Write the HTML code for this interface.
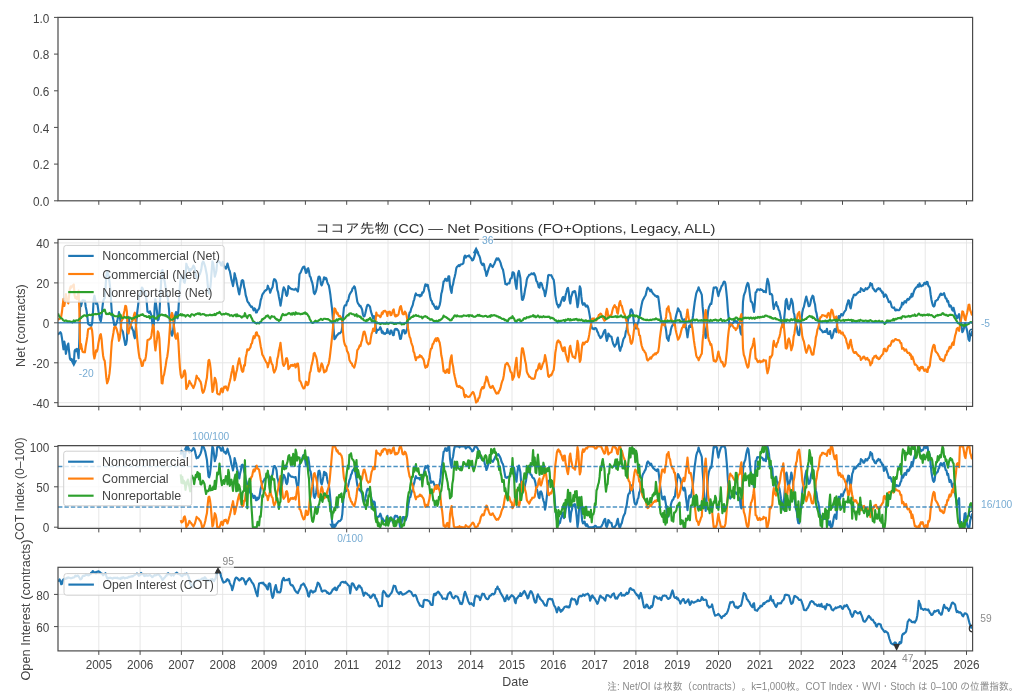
<!DOCTYPE html>
<html><head><meta charset="utf-8"><title>ココア先物 (CC) — Net Positions</title>
<style>
html,body{margin:0;padding:0;background:#fff;overflow:hidden;}
svg{display:block;}
text{font-family:"Liberation Sans","IPAGothic",sans-serif;fill:#444;}
.tk{font-size:12.8px;fill:#444;}
.lg{font-size:12.6px;fill:#444;}
.ti{font-size:13.2px;fill:#333;}
.al{font-size:12.8px;fill:#444;}
.an{font-size:11px;}
.fn{font-size:10.4px;fill:#8a8a8a;}
</style></head><body>
<svg width="1024" height="699" viewBox="0 0 1024 699">
<defs>
<clipPath id="c2"><rect x="58.0" y="239.4" width="914.6" height="167.0"/></clipPath>
<clipPath id="c3"><rect x="58.0" y="445.6" width="914.6" height="82.8"/></clipPath>
<clipPath id="c4"><rect x="58.0" y="567.3" width="914.6" height="83.6"/></clipPath>
</defs>
<rect width="1024" height="699" fill="#fff"/>
<rect x="58.0" y="17.4" width="914.6" height="183.4" fill="none" stroke="#4a4a4a" stroke-width="1.2"/>
<line x1="54.0" y1="200.8" x2="58.0" y2="200.8" stroke="#4a4a4a" stroke-width="1"/>
<text id="p1y0.0" x="49.40" y="206.00" class="tk" text-anchor="end" textLength="16.37" lengthAdjust="spacingAndGlyphs">0.0</text>
<line x1="54.0" y1="164.1" x2="58.0" y2="164.1" stroke="#4a4a4a" stroke-width="1"/>
<text id="p1y0.2" x="49.40" y="169.32" class="tk" text-anchor="end" textLength="16.37" lengthAdjust="spacingAndGlyphs">0.2</text>
<line x1="54.0" y1="127.4" x2="58.0" y2="127.4" stroke="#4a4a4a" stroke-width="1"/>
<text id="p1y0.4" x="49.40" y="132.64" class="tk" text-anchor="end" textLength="16.37" lengthAdjust="spacingAndGlyphs">0.4</text>
<line x1="54.0" y1="90.8" x2="58.0" y2="90.8" stroke="#4a4a4a" stroke-width="1"/>
<text id="p1y0.6" x="49.40" y="95.96" class="tk" text-anchor="end" textLength="16.37" lengthAdjust="spacingAndGlyphs">0.6</text>
<line x1="54.0" y1="54.1" x2="58.0" y2="54.1" stroke="#4a4a4a" stroke-width="1"/>
<text id="p1y0.8" x="49.40" y="59.28" class="tk" text-anchor="end" textLength="16.37" lengthAdjust="spacingAndGlyphs">0.8</text>
<line x1="54.0" y1="17.4" x2="58.0" y2="17.4" stroke="#4a4a4a" stroke-width="1"/>
<text id="p1y1.0" x="49.40" y="22.60" class="tk" text-anchor="end" textLength="16.37" lengthAdjust="spacingAndGlyphs">1.0</text>
<line x1="98.8" y1="200.8" x2="98.8" y2="204.8" stroke="#4a4a4a" stroke-width="1"/>
<line x1="140.1" y1="200.8" x2="140.1" y2="204.8" stroke="#4a4a4a" stroke-width="1"/>
<line x1="181.4" y1="200.8" x2="181.4" y2="204.8" stroke="#4a4a4a" stroke-width="1"/>
<line x1="222.7" y1="200.8" x2="222.7" y2="204.8" stroke="#4a4a4a" stroke-width="1"/>
<line x1="264.1" y1="200.8" x2="264.1" y2="204.8" stroke="#4a4a4a" stroke-width="1"/>
<line x1="305.4" y1="200.8" x2="305.4" y2="204.8" stroke="#4a4a4a" stroke-width="1"/>
<line x1="346.7" y1="200.8" x2="346.7" y2="204.8" stroke="#4a4a4a" stroke-width="1"/>
<line x1="388.0" y1="200.8" x2="388.0" y2="204.8" stroke="#4a4a4a" stroke-width="1"/>
<line x1="429.4" y1="200.8" x2="429.4" y2="204.8" stroke="#4a4a4a" stroke-width="1"/>
<line x1="470.7" y1="200.8" x2="470.7" y2="204.8" stroke="#4a4a4a" stroke-width="1"/>
<line x1="512.0" y1="200.8" x2="512.0" y2="204.8" stroke="#4a4a4a" stroke-width="1"/>
<line x1="553.3" y1="200.8" x2="553.3" y2="204.8" stroke="#4a4a4a" stroke-width="1"/>
<line x1="594.7" y1="200.8" x2="594.7" y2="204.8" stroke="#4a4a4a" stroke-width="1"/>
<line x1="635.9" y1="200.8" x2="635.9" y2="204.8" stroke="#4a4a4a" stroke-width="1"/>
<line x1="677.2" y1="200.8" x2="677.2" y2="204.8" stroke="#4a4a4a" stroke-width="1"/>
<line x1="718.5" y1="200.8" x2="718.5" y2="204.8" stroke="#4a4a4a" stroke-width="1"/>
<line x1="759.9" y1="200.8" x2="759.9" y2="204.8" stroke="#4a4a4a" stroke-width="1"/>
<line x1="801.2" y1="200.8" x2="801.2" y2="204.8" stroke="#4a4a4a" stroke-width="1"/>
<line x1="842.5" y1="200.8" x2="842.5" y2="204.8" stroke="#4a4a4a" stroke-width="1"/>
<line x1="883.8" y1="200.8" x2="883.8" y2="204.8" stroke="#4a4a4a" stroke-width="1"/>
<line x1="925.2" y1="200.8" x2="925.2" y2="204.8" stroke="#4a4a4a" stroke-width="1"/>
<line x1="966.5" y1="200.8" x2="966.5" y2="204.8" stroke="#4a4a4a" stroke-width="1"/>
<line x1="98.8" y1="239.4" x2="98.8" y2="406.4" stroke="#e4e4e4" stroke-width="0.9"/>
<line x1="140.1" y1="239.4" x2="140.1" y2="406.4" stroke="#e4e4e4" stroke-width="0.9"/>
<line x1="181.4" y1="239.4" x2="181.4" y2="406.4" stroke="#e4e4e4" stroke-width="0.9"/>
<line x1="222.7" y1="239.4" x2="222.7" y2="406.4" stroke="#e4e4e4" stroke-width="0.9"/>
<line x1="264.1" y1="239.4" x2="264.1" y2="406.4" stroke="#e4e4e4" stroke-width="0.9"/>
<line x1="305.4" y1="239.4" x2="305.4" y2="406.4" stroke="#e4e4e4" stroke-width="0.9"/>
<line x1="346.7" y1="239.4" x2="346.7" y2="406.4" stroke="#e4e4e4" stroke-width="0.9"/>
<line x1="388.0" y1="239.4" x2="388.0" y2="406.4" stroke="#e4e4e4" stroke-width="0.9"/>
<line x1="429.4" y1="239.4" x2="429.4" y2="406.4" stroke="#e4e4e4" stroke-width="0.9"/>
<line x1="470.7" y1="239.4" x2="470.7" y2="406.4" stroke="#e4e4e4" stroke-width="0.9"/>
<line x1="512.0" y1="239.4" x2="512.0" y2="406.4" stroke="#e4e4e4" stroke-width="0.9"/>
<line x1="553.3" y1="239.4" x2="553.3" y2="406.4" stroke="#e4e4e4" stroke-width="0.9"/>
<line x1="594.7" y1="239.4" x2="594.7" y2="406.4" stroke="#e4e4e4" stroke-width="0.9"/>
<line x1="635.9" y1="239.4" x2="635.9" y2="406.4" stroke="#e4e4e4" stroke-width="0.9"/>
<line x1="677.2" y1="239.4" x2="677.2" y2="406.4" stroke="#e4e4e4" stroke-width="0.9"/>
<line x1="718.5" y1="239.4" x2="718.5" y2="406.4" stroke="#e4e4e4" stroke-width="0.9"/>
<line x1="759.9" y1="239.4" x2="759.9" y2="406.4" stroke="#e4e4e4" stroke-width="0.9"/>
<line x1="801.2" y1="239.4" x2="801.2" y2="406.4" stroke="#e4e4e4" stroke-width="0.9"/>
<line x1="842.5" y1="239.4" x2="842.5" y2="406.4" stroke="#e4e4e4" stroke-width="0.9"/>
<line x1="883.8" y1="239.4" x2="883.8" y2="406.4" stroke="#e4e4e4" stroke-width="0.9"/>
<line x1="925.2" y1="239.4" x2="925.2" y2="406.4" stroke="#e4e4e4" stroke-width="0.9"/>
<line x1="966.5" y1="239.4" x2="966.5" y2="406.4" stroke="#e4e4e4" stroke-width="0.9"/>
<line x1="58.0" y1="402.7" x2="972.6" y2="402.7" stroke="#e4e4e4" stroke-width="0.9"/>
<line x1="58.0" y1="362.8" x2="972.6" y2="362.8" stroke="#e4e4e4" stroke-width="0.9"/>
<line x1="58.0" y1="322.8" x2="972.6" y2="322.8" stroke="#e4e4e4" stroke-width="0.9"/>
<line x1="58.0" y1="282.9" x2="972.6" y2="282.9" stroke="#e4e4e4" stroke-width="0.9"/>
<line x1="58.0" y1="242.9" x2="972.6" y2="242.9" stroke="#e4e4e4" stroke-width="0.9"/>
<polyline points="58.0,334.7 58.8,333.8 59.6,332.9 60.4,332.2 61.2,333.6 62.0,338.4 62.8,344.4 63.5,349.3 64.3,341.5 65.1,346.0 65.9,353.9 66.7,349.7 67.5,345.5 68.3,343.6 69.1,351.4 69.9,358.4 70.7,359.9 71.5,358.9 72.3,360.3 73.0,361.4 73.8,363.6 74.6,351.1 75.4,349.5 76.2,351.1 77.0,348.9 77.8,352.6 78.6,358.1 79.4,337.8 80.2,301.7 81.0,306.2 81.8,303.0 82.5,300.2 83.3,300.2 84.1,301.2 84.9,300.7 85.7,306.7 86.5,310.4 87.3,316.0 88.1,323.8 88.9,324.5 89.7,325.2 90.5,325.1 91.3,326.0 92.1,323.4 92.8,315.7 93.6,300.1 94.4,295.7 95.2,299.4 96.0,303.7 96.8,302.7 97.6,305.2 98.4,311.1 99.2,315.6 100.0,319.5 100.8,321.3 101.6,316.5 102.3,308.7 103.1,301.6 103.9,299.1 104.7,298.0 105.5,287.9 106.3,276.5 107.1,271.2 107.9,272.9 108.7,276.0 109.5,282.0 110.3,289.3 111.1,301.8 111.8,312.3 112.6,316.6 113.4,320.0 114.2,325.0 115.0,325.6 115.8,324.9 116.6,323.1 117.4,320.1 118.2,316.6 119.0,312.0 119.8,316.0 120.6,322.5 121.3,329.3 122.1,330.4 122.9,331.8 123.7,336.6 124.5,340.8 125.3,345.0 126.1,344.2 126.9,339.7 127.7,318.9 128.5,316.9 129.3,321.5 130.1,323.3 130.9,326.4 131.6,326.7 132.4,329.3 133.2,330.6 134.0,335.5 134.8,338.3 135.6,330.3 136.4,321.7 137.2,312.4 138.0,306.2 138.8,299.1 139.6,294.1 140.4,294.2 141.1,291.2 141.9,287.5 142.7,288.4 143.5,291.7 144.3,292.2 145.1,292.1 145.9,295.9 146.7,302.0 147.5,311.6 148.3,311.7 149.1,312.8 149.9,311.3 150.6,313.0 151.4,315.5 152.2,322.0 153.0,327.5 153.8,324.4 154.6,308.0 155.4,299.2 156.2,305.4 157.0,311.3 157.8,320.4 158.6,319.5 159.4,314.4 160.2,298.4 160.9,286.1 161.7,270.9 162.5,270.1 163.3,276.5 164.1,278.8 164.9,282.8 165.7,288.2 166.5,292.2 167.3,295.7 168.1,300.5 168.9,308.3 169.7,319.5 170.4,329.2 171.2,333.6 172.0,335.7 172.8,333.4 173.6,325.7 174.4,321.5 175.2,315.0 176.0,312.0 176.8,315.7 177.6,318.3 178.4,310.1 179.2,296.5 179.9,285.9 180.7,279.5 181.5,275.2 182.3,276.7 183.1,276.8 183.9,282.0 184.7,282.9 185.5,278.2 186.3,263.7 187.1,266.2 187.9,267.1 188.7,269.3 189.4,271.6 190.2,269.0 191.0,270.0 191.8,268.9 192.6,267.5 193.4,265.6 194.2,266.7 195.0,269.7 195.8,274.5 196.6,278.4 197.4,276.8 198.2,276.9 199.0,275.1 199.7,274.3 200.5,272.1 201.3,269.3 202.1,263.4 202.9,261.6 203.7,262.2 204.5,264.6 205.3,267.1 206.1,271.2 206.9,275.3 207.7,284.4 208.5,292.5 209.2,293.5 210.0,290.1 210.8,282.8 211.6,271.8 212.4,261.3 213.2,263.3 214.0,269.3 214.8,276.6 215.6,273.9 216.4,270.7 217.2,262.1 218.0,261.1 218.7,261.2 219.5,262.0 220.3,263.0 221.1,265.5 221.9,265.4 222.7,261.9 223.5,265.5 224.3,267.3 225.1,266.8 225.9,268.7 226.7,266.4 227.5,263.5 228.3,266.7 229.0,269.4 229.8,271.1 230.6,275.1 231.4,279.6 232.2,282.5 233.0,286.1 233.8,281.3 234.6,273.2 235.4,276.6 236.2,279.3 237.0,284.1 237.8,287.4 238.5,291.4 239.3,294.4 240.1,289.2 240.9,285.8 241.7,280.6 242.5,280.1 243.3,280.9 244.1,286.9 244.9,289.6 245.7,295.2 246.5,297.6 247.3,301.0 248.0,302.3 248.8,302.9 249.6,304.7 250.4,305.6 251.2,307.0 252.0,306.6 252.8,308.4 253.6,310.4 254.4,308.3 255.2,309.0 256.0,312.5 256.8,312.5 257.5,310.1 258.3,309.7 259.1,308.5 259.9,305.1 260.7,300.1 261.5,297.8 262.3,294.8 263.1,293.4 263.9,292.5 264.7,291.0 265.5,290.5 266.3,290.0 267.1,289.1 267.8,285.7 268.6,288.1 269.4,289.2 270.2,292.7 271.0,290.1 271.8,288.4 272.6,286.9 273.4,281.6 274.2,279.2 275.0,279.5 275.8,280.6 276.6,283.4 277.3,289.9 278.1,292.1 278.9,296.9 279.7,300.7 280.5,305.7 281.3,301.0 282.1,296.1 282.9,290.6 283.7,287.4 284.5,288.7 285.3,290.5 286.1,294.8 286.8,295.8 287.6,293.9 288.4,286.0 289.2,287.2 290.0,287.9 290.8,288.7 291.6,289.2 292.4,289.1 293.2,289.5 294.0,289.6 294.8,289.6 295.6,288.6 296.4,289.7 297.1,290.6 297.9,291.5 298.7,285.9 299.5,274.3 300.3,273.0 301.1,271.4 301.9,269.4 302.7,267.7 303.5,266.7 304.3,266.6 305.1,269.6 305.9,272.9 306.6,272.8 307.4,268.9 308.2,268.2 309.0,271.3 309.8,276.2 310.6,277.1 311.4,280.5 312.2,282.5 313.0,286.3 313.8,292.6 314.6,294.0 315.4,292.5 316.1,290.7 316.9,286.8 317.7,280.8 318.5,276.9 319.3,276.5 320.1,278.3 320.9,283.9 321.7,285.4 322.5,283.3 323.3,280.6 324.1,277.3 324.9,279.2 325.6,277.8 326.4,278.6 327.2,282.1 328.0,284.2 328.8,285.3 329.6,289.6 330.4,295.0 331.2,302.1 332.0,308.4 332.8,317.3 333.6,329.1 334.4,339.2 335.2,338.3 335.9,337.2 336.7,335.5 337.5,335.0 338.3,333.7 339.1,333.2 339.9,333.4 340.7,332.4 341.5,331.4 342.3,326.6 343.1,316.0 343.9,308.0 344.7,305.7 345.4,305.0 346.2,305.3 347.0,301.6 347.8,301.3 348.6,298.6 349.4,295.0 350.2,293.5 351.0,292.1 351.8,291.1 352.6,288.3 353.4,287.8 354.2,286.3 354.9,287.2 355.7,291.4 356.5,296.6 357.3,301.7 358.1,303.6 358.9,304.5 359.7,306.2 360.5,305.9 361.3,307.8 362.1,309.5 362.9,314.3 363.7,316.5 364.5,316.3 365.2,313.7 366.0,310.3 366.8,306.6 367.6,304.8 368.4,304.9 369.2,305.7 370.0,306.8 370.8,310.9 371.6,313.7 372.4,316.1 373.2,318.6 374.0,316.2 374.7,316.7 375.5,324.4 376.3,333.0 377.1,330.5 377.9,329.7 378.7,329.9 379.5,328.8 380.3,327.1 381.1,329.0 381.9,332.7 382.7,331.4 383.5,333.6 384.2,333.2 385.0,334.0 385.8,333.1 386.6,333.0 387.4,329.0 388.2,332.7 389.0,332.7 389.8,334.0 390.6,330.5 391.4,330.5 392.2,332.9 393.0,335.2 393.7,335.2 394.5,330.0 395.3,328.8 396.1,329.6 396.9,328.9 397.7,330.1 398.5,330.9 399.3,334.7 400.1,338.9 400.9,338.7 401.7,334.6 402.5,330.5 403.3,330.1 404.0,330.1 404.8,333.5 405.6,333.0 406.4,330.9 407.2,328.4 408.0,320.3 408.8,316.6 409.6,312.4 410.4,312.1 411.2,308.7 412.0,306.8 412.8,304.9 413.5,301.4 414.3,299.3 415.1,295.4 415.9,293.4 416.7,295.1 417.5,295.0 418.3,295.4 419.1,294.9 419.9,296.5 420.7,294.9 421.5,295.6 422.3,292.3 423.0,292.6 423.8,291.2 424.6,287.3 425.4,284.4 426.2,285.9 427.0,284.6 427.8,285.0 428.6,289.4 429.4,292.0 430.2,297.0 431.0,300.2 431.8,301.0 432.6,304.1 433.3,303.9 434.1,305.9 434.9,307.2 435.7,308.9 436.5,306.6 437.3,308.9 438.1,308.8 438.9,307.2 439.7,305.0 440.5,301.0 441.3,293.7 442.1,291.1 442.8,286.8 443.6,281.5 444.4,281.1 445.2,278.8 446.0,278.8 446.8,280.8 447.6,280.7 448.4,276.4 449.2,276.4 450.0,285.8 450.8,290.2 451.6,292.9 452.3,286.6 453.1,284.2 453.9,279.6 454.7,276.7 455.5,273.2 456.3,268.3 457.1,266.6 457.9,266.2 458.7,265.2 459.5,266.1 460.3,264.8 461.1,264.4 461.8,264.2 462.6,263.9 463.4,263.2 464.2,257.3 465.0,255.5 465.8,257.7 466.6,256.4 467.4,256.1 468.2,256.3 469.0,255.3 469.8,256.5 470.6,257.8 471.4,258.4 472.1,260.5 472.9,260.1 473.7,258.7 474.5,256.2 475.3,253.0 476.1,249.9 476.9,251.1 477.7,252.4 478.5,254.7 479.3,255.9 480.1,258.2 480.9,262.2 481.6,263.7 482.4,265.0 483.2,263.6 484.0,264.3 484.8,269.5 485.6,271.2 486.4,275.9 487.2,273.8 488.0,270.9 488.8,268.1 489.6,266.3 490.4,264.0 491.1,265.4 491.9,266.0 492.7,267.0 493.5,265.3 494.3,264.0 495.1,261.9 495.9,260.0 496.7,258.3 497.5,259.5 498.3,258.4 499.1,259.8 499.9,261.3 500.7,263.2 501.4,266.2 502.2,268.2 503.0,269.8 503.8,274.1 504.6,279.1 505.4,284.1 506.2,283.8 507.0,284.7 507.8,283.6 508.6,283.1 509.4,283.3 510.2,279.4 510.9,278.4 511.7,277.8 512.5,272.4 513.3,272.4 514.1,273.5 514.9,279.4 515.7,284.8 516.5,288.8 517.3,279.2 518.1,273.3 518.9,270.9 519.7,274.7 520.4,278.3 521.2,290.9 522.0,299.7 522.8,299.9 523.6,297.8 524.4,294.1 525.2,288.8 526.0,285.6 526.8,279.7 527.6,277.3 528.4,276.3 529.2,274.9 529.9,274.7 530.7,274.5 531.5,273.3 532.3,273.9 533.1,274.3 533.9,273.1 534.7,274.5 535.5,276.7 536.3,280.9 537.1,281.7 537.9,284.1 538.7,287.2 539.5,287.7 540.2,283.1 541.0,282.8 541.8,284.0 542.6,287.1 543.4,289.5 544.2,291.0 545.0,296.2 545.8,293.1 546.6,288.1 547.4,282.5 548.2,275.4 549.0,274.9 549.7,275.2 550.5,275.3 551.3,275.2 552.1,277.1 552.9,278.7 553.7,279.8 554.5,285.9 555.3,295.1 556.1,299.9 556.9,303.9 557.7,305.3 558.5,307.4 559.2,304.8 560.0,305.7 560.8,302.7 561.6,300.3 562.4,298.0 563.2,296.9 564.0,300.9 564.8,299.7 565.6,295.1 566.4,292.2 567.2,289.0 568.0,287.9 568.8,292.1 569.5,300.0 570.3,303.5 571.1,297.2 571.9,294.9 572.7,291.8 573.5,292.2 574.3,291.0 575.1,291.2 575.9,295.1 576.7,300.5 577.5,307.2 578.3,303.4 579.0,294.5 579.8,286.3 580.6,288.3 581.4,296.9 582.2,303.0 583.0,304.8 583.8,303.4 584.6,303.4 585.4,305.9 586.2,306.6 587.0,305.3 587.8,306.4 588.5,308.9 589.3,313.1 590.1,317.9 590.9,323.0 591.7,327.3 592.5,328.7 593.3,328.4 594.1,329.3 594.9,328.0 595.7,328.0 596.5,329.2 597.3,331.6 598.0,332.5 598.8,335.3 599.6,336.2 600.4,338.1 601.2,337.5 602.0,336.3 602.8,334.6 603.6,332.3 604.4,330.6 605.2,329.9 606.0,336.7 606.8,340.9 607.6,338.6 608.3,333.6 609.1,334.4 609.9,336.2 610.7,336.4 611.5,336.8 612.3,340.4 613.1,343.5 613.9,345.2 614.7,346.6 615.5,344.9 616.3,344.2 617.1,339.6 617.8,337.5 618.6,342.9 619.4,348.8 620.2,350.8 621.0,347.6 621.8,346.2 622.6,342.4 623.4,339.2 624.2,337.8 625.0,336.6 625.8,331.7 626.6,329.5 627.3,324.6 628.1,319.2 628.9,317.4 629.7,317.3 630.5,310.2 631.3,309.3 632.1,310.5 632.9,313.6 633.7,321.0 634.5,326.4 635.3,328.2 636.1,328.5 636.9,326.8 637.6,323.1 638.4,321.8 639.2,316.5 640.0,315.0 640.8,309.2 641.6,304.9 642.4,301.2 643.2,299.4 644.0,298.2 644.8,296.3 645.6,295.3 646.4,292.1 647.1,288.8 647.9,287.6 648.7,288.6 649.5,289.5 650.3,291.2 651.1,289.7 651.9,291.8 652.7,293.0 653.5,294.3 654.3,294.6 655.1,295.8 655.9,295.9 656.6,296.8 657.4,296.1 658.2,296.7 659.0,302.3 659.8,309.2 660.6,314.8 661.4,320.2 662.2,324.1 663.0,324.7 663.8,322.4 664.6,321.9 665.4,326.6 666.1,330.3 666.9,338.0 667.7,339.3 668.5,340.8 669.3,335.5 670.1,334.6 670.9,329.5 671.7,326.8 672.5,325.3 673.3,324.9 674.1,322.2 674.9,322.9 675.7,317.5 676.4,314.5 677.2,311.9 678.0,308.3 678.8,309.6 679.6,311.3 680.4,312.1 681.2,316.1 682.0,318.7 682.8,319.8 683.6,321.4 684.4,319.3 685.2,321.2 685.9,327.0 686.7,331.5 687.5,337.3 688.3,331.5 689.1,326.1 689.9,325.4 690.7,326.9 691.5,323.9 692.3,320.7 693.1,315.2 693.9,308.5 694.7,302.3 695.4,298.3 696.2,293.6 697.0,291.4 697.8,290.1 698.6,287.3 699.4,289.6 700.2,291.2 701.0,292.8 701.8,294.8 702.6,306.4 703.4,314.4 704.2,327.1 705.0,333.6 705.7,338.0 706.5,329.5 707.3,319.7 708.1,311.0 708.9,307.3 709.7,305.5 710.5,303.6 711.3,304.0 712.1,298.9 712.9,293.0 713.7,287.6 714.5,288.2 715.2,287.3 716.0,287.3 716.8,288.1 717.6,292.7 718.4,296.1 719.2,292.5 720.0,290.5 720.8,288.5 721.6,286.0 722.4,285.5 723.2,283.1 724.0,281.6 724.7,281.7 725.5,284.0 726.3,291.4 727.1,299.3 727.9,310.5 728.7,318.4 729.5,324.9 730.3,326.3 731.1,324.6 731.9,324.1 732.7,323.1 733.5,322.6 734.2,320.5 735.0,321.6 735.8,320.8 736.6,322.4 737.4,321.9 738.2,324.1 739.0,325.7 739.8,326.1 740.6,332.6 741.4,334.7 742.2,324.4 743.0,301.9 743.8,295.7 744.5,293.7 745.3,291.7 746.1,287.6 746.9,284.9 747.7,282.9 748.5,284.1 749.3,289.3 750.1,295.8 750.9,301.6 751.7,301.8 752.5,303.7 753.3,308.3 754.0,311.9 754.8,303.8 755.6,292.4 756.4,292.0 757.2,289.5 758.0,289.4 758.8,289.5 759.6,290.2 760.4,289.1 761.2,289.8 762.0,289.8 762.8,290.5 763.5,291.8 764.3,291.1 765.1,292.0 765.9,292.3 766.7,283.8 767.5,278.9 768.3,281.4 769.1,285.1 769.9,294.2 770.7,293.9 771.5,294.1 772.3,295.6 773.1,304.6 773.8,309.0 774.6,305.0 775.4,304.2 776.2,302.1 777.0,306.1 777.8,306.3 778.6,309.7 779.4,311.0 780.2,314.8 781.0,318.8 781.8,321.9 782.6,324.4 783.3,327.3 784.1,319.3 784.9,311.0 785.7,300.6 786.5,298.9 787.3,302.3 788.1,308.4 788.9,309.4 789.7,306.5 790.5,303.7 791.3,298.9 792.1,300.8 792.8,303.6 793.6,312.2 794.4,314.8 795.2,321.1 796.0,324.9 796.8,326.8 797.6,332.6 798.4,335.0 799.2,335.1 800.0,329.0 800.8,323.6 801.6,318.3 802.3,312.4 803.1,308.7 803.9,306.9 804.7,303.0 805.5,299.5 806.3,296.6 807.1,299.9 807.9,302.8 808.7,306.2 809.5,305.9 810.3,303.8 811.1,299.5 811.9,297.4 812.6,295.7 813.4,296.5 814.2,301.6 815.0,304.2 815.8,310.9 816.6,313.4 817.4,318.4 818.2,319.8 819.0,322.9 819.8,328.5 820.6,329.7 821.4,330.2 822.1,331.2 822.9,332.3 823.7,332.0 824.5,331.1 825.3,332.0 826.1,331.8 826.9,328.8 827.7,333.6 828.5,334.0 829.3,333.7 830.1,331.1 830.9,335.6 831.6,338.3 832.4,337.3 833.2,334.0 834.0,330.7 834.8,329.0 835.6,330.1 836.4,332.2 837.2,322.2 838.0,317.9 838.8,316.0 839.6,317.9 840.4,316.4 841.2,314.1 841.9,314.8 842.7,315.5 843.5,313.5 844.3,312.0 845.1,310.8 845.9,309.8 846.7,305.6 847.5,303.5 848.3,300.3 849.1,300.7 849.9,306.4 850.7,308.4 851.4,304.6 852.2,299.1 853.0,297.6 853.8,295.0 854.6,294.5 855.4,295.2 856.2,294.6 857.0,293.4 857.8,292.9 858.6,292.1 859.4,291.5 860.2,291.9 860.9,288.2 861.7,289.2 862.5,289.2 863.3,290.9 864.1,290.9 864.9,289.6 865.7,288.2 866.5,289.3 867.3,289.2 868.1,287.7 868.9,287.5 869.7,285.9 870.4,283.1 871.2,284.9 872.0,284.1 872.8,288.4 873.6,288.7 874.4,290.4 875.2,291.3 876.0,291.3 876.8,289.3 877.6,289.5 878.4,288.1 879.2,288.9 880.0,288.7 880.7,290.6 881.5,290.8 882.3,292.8 883.1,292.4 883.9,296.9 884.7,295.9 885.5,294.4 886.3,295.4 887.1,297.7 887.9,299.2 888.7,301.9 889.5,302.2 890.2,301.5 891.0,303.9 891.8,307.1 892.6,307.6 893.4,308.0 894.2,307.5 895.0,310.0 895.8,310.5 896.6,309.5 897.4,309.9 898.2,310.2 899.0,310.1 899.7,309.5 900.5,307.6 901.3,306.7 902.1,302.7 902.9,304.5 903.7,303.4 904.5,301.4 905.3,301.2 906.1,302.5 906.9,300.0 907.7,298.9 908.5,299.8 909.3,299.1 910.0,297.2 910.8,297.4 911.6,293.8 912.4,296.5 913.2,293.8 914.0,291.1 914.8,289.3 915.6,288.2 916.4,287.3 917.2,286.9 918.0,284.9 918.8,286.7 919.5,283.4 920.3,285.3 921.1,286.3 921.9,285.5 922.7,285.7 923.5,284.8 924.3,282.9 925.1,282.9 925.9,284.1 926.7,281.9 927.5,282.0 928.3,285.8 929.0,286.4 929.8,287.8 930.6,294.2 931.4,299.5 932.2,302.9 933.0,305.8 933.8,306.6 934.6,305.6 935.4,301.1 936.2,300.8 937.0,299.9 937.8,299.6 938.5,297.5 939.3,296.7 940.1,294.4 940.9,293.6 941.7,295.0 942.5,294.8 943.3,293.8 944.1,293.2 944.9,296.2 945.7,298.4 946.5,298.6 947.3,301.7 948.1,301.0 948.8,304.1 949.6,306.6 950.4,305.3 951.2,306.4 952.0,309.6 952.8,310.6 953.6,307.9 954.4,311.3 955.2,314.6 956.0,315.5 956.8,318.5 957.6,317.8 958.3,315.7 959.1,314.1 959.9,318.9 960.7,322.3 961.5,326.7 962.3,332.2 963.1,330.9 963.9,328.4 964.7,323.8 965.5,323.5 966.3,327.5 967.1,330.7 967.8,334.4 968.6,339.5 969.4,340.8 970.2,335.8 971.0,334.2 971.8,331.5 972.6,332.4" fill="none" stroke="#1f77b4" stroke-width="2.15" stroke-linejoin="round" stroke-linecap="butt" clip-path="url(#c2)"/>
<polyline points="58.0,320.3 58.8,319.0 59.6,318.9 60.4,318.5 61.2,316.5 62.0,311.5 62.8,304.3 63.5,298.8 64.3,306.0 65.1,301.6 65.9,294.1 66.7,298.0 67.5,301.4 68.3,303.4 69.1,295.7 69.9,288.7 70.7,286.4 71.5,287.7 72.3,285.8 73.0,285.2 73.8,284.4 74.6,295.4 75.4,298.1 76.2,296.9 77.0,299.1 77.8,295.4 78.6,290.6 79.4,311.7 80.2,348.6 81.0,344.0 81.8,348.6 82.5,351.6 83.3,352.2 84.1,351.9 84.9,352.3 85.7,346.1 86.5,341.6 87.3,336.7 88.1,329.4 88.9,328.8 89.7,328.5 90.5,328.2 91.3,327.4 92.1,330.6 92.8,337.6 93.6,354.1 94.4,358.5 95.2,355.1 96.0,350.4 96.8,351.6 97.6,349.2 98.4,343.4 99.2,339.2 100.0,335.4 100.8,334.1 101.6,339.2 102.3,348.1 103.1,355.7 103.9,359.4 104.7,360.7 105.5,368.5 106.3,377.7 107.1,383.3 107.9,381.4 108.7,378.4 109.5,373.4 110.3,365.3 111.1,351.8 111.8,342.0 112.6,337.6 113.4,333.0 114.2,327.5 115.0,326.6 115.8,327.2 116.6,329.0 117.4,332.0 118.2,335.1 119.0,340.8 119.8,338.0 120.6,331.0 121.3,321.7 122.1,319.8 122.9,318.9 123.7,314.1 124.5,310.7 125.3,305.9 126.1,306.3 126.9,311.6 127.7,331.9 128.5,333.5 129.3,329.2 130.1,327.5 130.9,324.0 131.6,322.5 132.4,320.7 133.2,319.7 134.0,314.8 134.8,312.7 135.6,321.3 136.4,329.6 137.2,338.9 138.0,346.9 138.8,353.3 139.6,358.3 140.4,359.2 141.1,362.5 141.9,366.0 142.7,365.8 143.5,361.4 144.3,360.2 145.1,360.3 145.9,356.4 146.7,349.6 147.5,340.1 148.3,339.7 149.1,339.6 149.9,338.8 150.6,338.4 151.4,335.7 152.2,329.7 153.0,324.8 153.8,327.1 154.6,342.9 155.4,350.5 156.2,344.4 157.0,339.2 157.8,331.4 158.6,333.0 159.4,338.7 160.2,354.5 160.9,367.4 161.7,383.1 162.5,383.5 163.3,376.6 164.1,374.6 164.9,370.0 165.7,365.4 166.5,359.8 167.3,356.5 168.1,350.6 168.9,342.5 169.7,330.3 170.4,319.8 171.2,315.1 172.0,312.9 172.8,315.6 173.6,323.8 174.4,329.0 175.2,336.9 176.0,338.7 176.8,336.2 177.6,333.3 178.4,342.5 179.2,356.9 179.9,367.6 180.7,374.8 181.5,377.8 182.3,377.2 183.1,376.2 183.9,371.4 184.7,370.3 185.5,373.7 186.3,389.0 187.1,387.0 187.9,386.4 188.7,383.5 189.4,380.9 190.2,382.7 191.0,383.5 191.8,385.3 192.6,386.4 193.4,388.1 194.2,386.2 195.0,384.0 195.8,379.9 196.6,375.7 197.4,378.1 198.2,378.1 199.0,379.2 199.7,380.8 200.5,381.6 201.3,384.6 202.1,390.7 202.9,392.8 203.7,391.9 204.5,389.4 205.3,386.1 206.1,381.5 206.9,377.8 207.7,368.6 208.5,360.5 209.2,359.9 210.0,363.7 210.8,370.4 211.6,381.6 212.4,392.0 213.2,390.3 214.0,384.0 214.8,377.8 215.6,379.5 216.4,383.5 217.2,393.3 218.0,394.1 218.7,394.2 219.5,394.5 220.3,392.3 221.1,388.9 221.9,388.4 222.7,392.3 223.5,389.0 224.3,386.7 225.1,387.6 225.9,386.3 226.7,388.3 227.5,390.5 228.3,387.6 229.0,384.6 229.8,381.5 230.6,377.9 231.4,373.6 232.2,370.3 233.0,366.1 233.8,371.6 234.6,380.3 235.4,377.2 236.2,372.8 237.0,370.0 237.8,364.7 238.5,361.4 239.3,358.3 240.1,363.1 240.9,365.8 241.7,370.2 242.5,371.9 243.3,371.2 244.1,365.2 244.9,365.6 245.7,357.4 246.5,353.9 247.3,349.4 248.0,350.0 248.8,350.1 249.6,348.6 250.4,347.4 251.2,344.0 252.0,343.3 252.8,339.2 253.6,336.2 254.4,338.2 255.2,336.4 256.0,332.7 256.8,332.3 257.5,335.5 258.3,335.6 259.1,336.5 259.9,341.2 260.7,346.2 261.5,349.9 262.3,354.7 263.1,355.8 263.9,357.6 264.7,359.2 265.5,360.9 266.3,362.6 267.1,362.9 267.8,367.3 268.6,363.8 269.4,361.3 270.2,357.2 271.0,361.4 271.8,363.9 272.6,364.9 273.4,370.1 274.2,372.6 275.0,370.8 275.8,369.1 276.6,365.4 277.3,359.1 278.1,356.3 278.9,350.6 279.7,347.6 280.5,342.8 281.3,350.4 282.1,357.1 282.9,363.8 283.7,365.9 284.5,364.5 285.3,363.3 286.1,358.5 286.8,358.2 287.6,360.5 288.4,369.1 289.2,368.1 290.0,366.8 290.8,365.2 291.6,365.7 292.4,364.8 293.2,365.9 294.0,365.1 294.8,364.1 295.6,367.5 296.4,365.9 297.1,363.8 297.9,363.5 298.7,368.9 299.5,380.6 300.3,381.1 301.1,382.9 301.9,385.2 302.7,387.0 303.5,388.5 304.3,388.3 305.1,386.4 305.9,381.7 306.6,382.2 307.4,385.2 308.2,384.5 309.0,380.6 309.8,372.9 310.6,371.1 311.4,365.9 312.2,363.1 313.0,359.3 313.8,353.5 314.6,352.9 315.4,355.3 316.1,356.8 316.9,359.9 317.7,366.2 318.5,371.1 319.3,371.7 320.1,370.5 320.9,365.7 321.7,363.4 322.5,365.2 323.3,368.6 324.1,372.4 324.9,370.5 325.6,371.6 326.4,370.8 327.2,367.0 328.0,365.2 328.8,363.3 329.6,358.8 330.4,352.0 331.2,345.1 332.0,337.6 332.8,329.7 333.6,317.8 334.4,308.4 335.2,308.9 335.9,310.8 336.7,313.6 337.5,312.7 338.3,315.3 339.1,316.3 339.9,315.8 340.7,317.2 341.5,318.3 342.3,321.8 343.1,332.8 343.9,341.0 344.7,344.2 345.4,345.8 346.2,346.4 347.0,351.0 347.8,352.1 348.6,354.4 349.4,359.9 350.2,361.4 351.0,363.1 351.8,363.4 352.6,365.9 353.4,366.4 354.2,367.6 354.9,365.5 355.7,362.1 356.5,357.6 357.3,350.1 358.1,349.2 358.9,347.7 359.7,345.4 360.5,346.0 361.3,342.2 362.1,340.2 362.9,335.2 363.7,331.7 364.5,331.6 365.2,334.1 366.0,337.0 366.8,341.9 367.6,343.0 368.4,344.3 369.2,343.4 370.0,343.6 370.8,338.4 371.6,333.7 372.4,332.0 373.2,328.6 374.0,330.9 374.7,330.9 375.5,321.6 376.3,312.5 377.1,315.6 377.9,315.3 378.7,315.5 379.5,316.0 380.3,317.2 381.1,315.7 381.9,312.6 382.7,313.8 383.5,311.1 384.2,311.5 385.0,310.7 385.8,311.5 386.6,312.7 387.4,316.0 388.2,311.9 389.0,312.3 389.8,311.6 390.6,315.2 391.4,315.0 392.2,312.5 393.0,310.3 393.7,309.3 394.5,314.5 395.3,316.4 396.1,314.9 396.9,316.0 397.7,315.4 398.5,314.4 399.3,310.4 400.1,306.9 400.9,306.1 401.7,309.4 402.5,313.7 403.3,314.3 404.0,314.1 404.8,311.6 405.6,312.4 406.4,314.8 407.2,319.1 408.0,328.2 408.8,332.6 409.6,336.8 410.4,338.2 411.2,342.3 412.0,344.7 412.8,346.6 413.5,351.5 414.3,353.0 415.1,357.3 415.9,360.1 416.7,357.4 417.5,357.3 418.3,357.5 419.1,357.0 419.9,355.2 420.7,356.7 421.5,356.2 422.3,357.7 423.0,358.5 423.8,360.3 424.6,364.8 425.4,367.8 426.2,365.7 427.0,366.9 427.8,365.3 428.6,360.8 429.4,357.7 430.2,351.7 431.0,348.6 431.8,348.2 432.6,344.2 433.3,343.8 434.1,341.7 434.9,339.8 435.7,338.5 436.5,341.1 437.3,338.0 438.1,338.4 438.9,341.0 439.7,342.8 440.5,347.8 441.3,355.3 442.1,358.8 442.8,364.1 443.6,371.3 444.4,370.7 445.2,372.9 446.0,372.5 446.8,369.8 447.6,369.4 448.4,372.8 449.2,372.8 450.0,362.1 450.8,357.9 451.6,355.3 452.3,363.3 453.1,366.3 453.9,372.5 454.7,376.3 455.5,379.7 456.3,383.6 457.1,386.4 457.9,386.1 458.7,386.9 459.5,385.9 460.3,387.1 461.1,387.9 461.8,387.6 462.6,388.4 463.4,389.7 464.2,395.6 465.0,397.2 465.8,394.9 466.6,396.1 467.4,396.6 468.2,396.9 469.0,396.8 469.8,396.6 470.6,395.1 471.4,394.1 472.1,392.7 472.9,392.0 473.7,393.0 474.5,395.5 475.3,398.8 476.1,402.4 476.9,401.7 477.7,401.1 478.5,398.1 479.3,397.7 480.1,394.3 480.9,390.3 481.6,388.7 482.4,387.0 483.2,388.3 484.0,387.7 484.8,383.0 485.6,381.4 486.4,376.5 487.2,377.7 488.0,380.8 488.8,383.7 489.6,386.3 490.4,387.7 491.1,387.9 491.9,386.7 492.7,385.8 493.5,387.9 494.3,389.3 495.1,390.9 495.9,392.8 496.7,393.7 497.5,392.6 498.3,393.3 499.1,391.0 499.9,389.9 500.7,387.1 501.4,383.9 502.2,381.2 503.0,379.6 503.8,375.5 504.6,369.2 505.4,364.5 506.2,364.1 507.0,362.8 507.8,363.5 508.6,365.7 509.4,366.7 510.2,370.6 510.9,372.5 511.7,372.6 512.5,379.8 513.3,378.0 514.1,376.4 514.9,368.1 515.7,362.6 516.5,357.8 517.3,369.1 518.1,375.4 518.9,377.4 519.7,374.4 520.4,368.9 521.2,356.3 522.0,348.2 522.8,348.2 523.6,351.8 524.4,356.3 525.2,361.1 526.0,364.3 526.8,371.6 527.6,373.6 528.4,374.8 529.2,376.8 529.9,376.7 530.7,377.6 531.5,378.7 532.3,378.4 533.1,378.9 533.9,378.8 534.7,378.1 535.5,374.6 536.3,370.4 537.1,370.5 537.9,368.8 538.7,365.0 539.5,363.5 540.2,368.5 541.0,369.1 541.8,367.2 542.6,364.2 543.4,362.7 544.2,360.8 545.0,355.1 545.8,358.5 546.6,363.3 547.4,369.2 548.2,376.1 549.0,376.9 549.7,376.1 550.5,374.8 551.3,375.4 552.1,373.5 552.9,371.3 553.7,370.0 554.5,362.8 555.3,352.9 556.1,348.2 556.9,342.7 557.7,340.8 558.5,340.4 559.2,342.3 560.0,341.8 560.8,344.7 561.6,347.4 562.4,349.9 563.2,351.2 564.0,347.5 564.8,347.4 565.6,353.6 566.4,356.0 567.2,359.6 568.0,361.7 568.8,356.9 569.5,348.1 570.3,345.8 571.1,350.9 571.9,353.6 572.7,356.7 573.5,356.9 574.3,357.5 575.1,358.3 575.9,353.8 576.7,349.0 577.5,340.9 578.3,344.5 579.0,354.4 579.8,361.9 580.6,359.8 581.4,352.0 582.2,345.0 583.0,342.6 583.8,344.5 584.6,343.6 585.4,342.1 586.2,341.5 587.0,342.0 587.8,340.9 588.5,338.6 589.3,334.4 590.1,329.2 590.9,324.7 591.7,319.3 592.5,318.6 593.3,318.9 594.1,318.3 594.9,320.4 595.7,320.2 596.5,320.3 597.3,318.1 598.0,317.6 598.8,315.0 599.6,314.6 600.4,313.6 601.2,313.9 602.0,315.8 602.8,317.6 603.6,319.3 604.4,320.7 605.2,320.2 606.0,312.6 606.8,308.9 607.6,311.4 608.3,317.3 609.1,316.5 609.9,315.6 610.7,315.2 611.5,314.8 612.3,311.0 613.1,308.0 613.9,306.4 614.7,305.2 615.5,307.3 616.3,307.1 617.1,312.5 617.8,313.7 618.6,308.9 619.4,302.9 620.2,301.1 621.0,305.4 621.8,305.7 622.6,308.9 623.4,312.3 624.2,313.5 625.0,315.4 625.8,319.0 626.6,321.3 627.3,325.9 628.1,332.4 628.9,334.9 629.7,335.8 630.5,342.1 631.3,343.8 632.1,342.7 632.9,339.0 633.7,332.1 634.5,326.6 635.3,323.7 636.1,324.4 636.9,325.8 637.6,328.8 638.4,329.1 639.2,335.1 640.0,335.6 640.8,341.3 641.6,345.5 642.4,348.0 643.2,350.1 644.0,350.5 644.8,352.3 645.6,353.1 646.4,356.2 647.1,359.8 647.9,360.6 648.7,359.6 649.5,358.8 650.3,357.5 651.1,358.7 651.9,356.8 652.7,356.0 653.5,354.6 654.3,354.6 655.1,353.3 655.9,354.3 656.6,352.8 657.4,352.8 658.2,351.7 659.0,346.8 659.8,338.7 660.6,332.6 661.4,327.0 662.2,323.0 663.0,322.6 663.8,324.2 664.6,325.6 665.4,319.8 666.1,316.9 666.9,308.6 667.7,308.7 668.5,306.3 669.3,311.9 670.1,313.2 670.9,318.4 671.7,319.9 672.5,321.7 673.3,321.7 674.1,325.2 674.9,324.5 675.7,330.0 676.4,333.1 677.2,336.2 678.0,339.7 678.8,338.6 679.6,337.0 680.4,334.4 681.2,330.9 682.0,328.0 682.8,327.2 683.6,324.7 684.4,327.2 685.2,324.9 685.9,319.9 686.7,315.2 687.5,309.5 688.3,315.6 689.1,320.9 689.9,321.4 690.7,321.0 691.5,324.2 692.3,327.4 693.1,333.5 693.9,340.4 694.7,345.7 695.4,349.7 696.2,355.3 697.0,357.4 697.8,357.7 698.6,360.3 699.4,358.3 700.2,356.8 701.0,354.8 701.8,353.6 702.6,341.4 703.4,333.4 704.2,321.5 705.0,314.3 705.7,310.0 706.5,318.7 707.3,328.5 708.1,336.7 708.9,340.5 709.7,341.9 710.5,344.9 711.3,344.2 712.1,348.6 712.9,355.0 713.7,360.8 714.5,360.1 715.2,361.6 716.0,361.4 716.8,359.7 717.6,355.4 718.4,351.5 719.2,355.9 720.0,358.0 720.8,361.1 721.6,362.3 722.4,361.8 723.2,364.8 724.0,366.6 724.7,365.8 725.5,363.7 726.3,356.5 727.1,348.9 727.9,338.2 728.7,330.8 729.5,325.3 730.3,323.1 731.1,324.7 731.9,324.6 732.7,325.9 733.5,327.1 734.2,328.1 735.0,328.1 735.8,330.1 736.6,328.5 737.4,328.2 738.2,324.4 739.0,323.8 739.8,323.5 740.6,316.7 741.4,314.0 742.2,324.7 743.0,348.3 743.8,354.9 744.5,356.5 745.3,359.2 746.1,362.7 746.9,365.6 747.7,367.7 748.5,366.6 749.3,360.4 750.1,354.9 750.9,349.3 751.7,348.1 752.5,346.2 753.3,342.5 754.0,338.5 754.8,345.9 755.6,358.6 756.4,358.8 757.2,360.9 758.0,362.2 758.8,361.5 759.6,360.6 760.4,362.3 761.2,361.4 762.0,361.6 762.8,361.5 763.5,359.8 764.3,360.4 765.1,360.8 765.9,360.4 766.7,368.9 767.5,373.3 768.3,370.3 769.1,366.7 769.9,356.8 770.7,357.7 771.5,356.1 772.3,354.7 773.1,345.0 773.8,340.9 774.6,345.1 775.4,346.1 776.2,347.0 777.0,343.2 777.8,342.6 778.6,338.8 779.4,337.0 780.2,333.5 781.0,328.5 781.8,326.2 782.6,323.6 783.3,320.5 784.1,328.3 784.9,336.5 785.7,348.3 786.5,348.6 787.3,346.5 788.1,339.9 788.9,338.5 789.7,341.0 790.5,345.0 791.3,350.3 792.1,347.5 792.8,345.0 793.6,336.8 794.4,333.7 795.2,327.9 796.0,322.7 796.8,321.1 797.6,314.4 798.4,313.2 799.2,312.0 800.0,317.5 800.8,324.0 801.6,329.5 802.3,336.5 803.1,339.4 803.9,341.5 804.7,345.8 805.5,350.0 806.3,352.8 807.1,350.8 807.9,348.4 808.7,345.4 809.5,346.6 810.3,348.4 811.1,351.9 811.9,354.5 812.6,354.7 813.4,354.5 814.2,348.7 815.0,345.1 815.8,337.6 816.6,334.8 817.4,329.6 818.2,327.9 819.0,324.4 819.8,319.0 820.6,317.0 821.4,316.9 822.1,315.1 822.9,315.2 823.7,315.2 824.5,316.0 825.3,315.8 826.1,315.9 826.9,317.5 827.7,314.0 828.5,313.0 829.3,314.4 830.1,317.8 830.9,312.1 831.6,309.6 832.4,310.5 833.2,314.2 834.0,317.6 834.8,319.6 835.6,317.5 836.4,316.5 837.2,325.4 838.0,330.3 838.8,332.6 839.6,330.5 840.4,331.3 841.2,333.7 841.9,333.1 842.7,332.5 843.5,335.1 844.3,335.4 845.1,337.4 845.9,338.6 846.7,342.7 847.5,344.7 848.3,348.4 849.1,347.6 849.9,342.0 850.7,339.8 851.4,344.0 852.2,347.8 853.0,350.6 853.8,352.6 854.6,353.0 855.4,352.0 856.2,352.3 857.0,354.2 857.8,354.6 858.6,355.9 859.4,355.8 860.2,356.8 860.9,359.9 861.7,358.7 862.5,358.5 863.3,356.7 864.1,356.5 864.9,358.0 865.7,359.6 866.5,358.4 867.3,357.9 868.1,359.8 868.9,359.8 869.7,361.8 870.4,365.3 871.2,362.9 872.0,363.2 872.8,358.3 873.6,358.1 874.4,356.2 875.2,356.4 876.0,355.6 876.8,358.0 877.6,357.4 878.4,359.1 879.2,358.9 880.0,358.1 880.7,356.3 881.5,355.8 882.3,354.5 883.1,353.9 883.9,349.0 884.7,348.6 885.5,350.8 886.3,351.4 887.1,350.3 887.9,347.4 888.7,345.9 889.5,345.5 890.2,345.8 891.0,344.0 891.8,341.1 892.6,340.5 893.4,341.5 894.2,340.5 895.0,339.3 895.8,339.0 896.6,339.8 897.4,340.0 898.2,340.2 899.0,340.1 899.7,341.0 900.5,343.2 901.3,343.1 902.1,348.8 902.9,347.8 903.7,348.5 904.5,350.7 905.3,349.9 906.1,349.3 906.9,351.8 907.7,353.0 908.5,352.7 909.3,352.7 910.0,355.1 910.8,354.4 911.6,359.0 912.4,356.6 913.2,358.9 914.0,361.7 914.8,364.6 915.6,364.4 916.4,365.3 917.2,366.0 918.0,369.2 918.8,368.0 919.5,370.7 920.3,368.0 921.1,366.9 921.9,368.1 922.7,366.9 923.5,368.9 924.3,370.8 925.1,370.2 925.9,369.3 926.7,371.7 927.5,372.0 928.3,367.2 929.0,367.7 929.8,365.6 930.6,358.9 931.4,353.8 932.2,350.1 933.0,346.4 933.8,344.8 934.6,345.5 935.4,351.0 936.2,352.0 937.0,352.9 937.8,353.9 938.5,355.5 939.3,356.7 940.1,359.2 940.9,359.8 941.7,359.1 942.5,360.4 943.3,361.2 944.1,360.6 944.9,357.7 945.7,354.8 946.5,354.9 947.3,351.1 948.1,351.4 948.8,349.0 949.6,346.8 950.4,348.4 951.2,347.0 952.0,343.9 952.8,342.5 953.6,345.0 954.4,339.5 955.2,335.3 956.0,332.9 956.8,328.7 957.6,328.0 958.3,329.3 959.1,330.8 959.9,325.5 960.7,321.1 961.5,317.5 962.3,311.4 963.1,311.7 963.9,314.8 964.7,318.7 965.5,320.2 966.3,316.0 967.1,312.9 967.8,309.8 968.6,304.9 969.4,304.7 970.2,310.3 971.0,312.1 971.8,314.7 972.6,312.5" fill="none" stroke="#ff7f0e" stroke-width="2.15" stroke-linejoin="round" stroke-linecap="butt" clip-path="url(#c2)"/>
<polyline points="58.0,313.4 58.8,315.6 59.6,316.5 60.4,317.8 61.2,318.3 62.0,318.5 62.8,319.7 63.5,320.4 64.3,320.9 65.1,320.8 65.9,320.4 66.7,320.8 67.5,321.4 68.3,321.3 69.1,321.4 69.9,321.4 70.7,322.0 71.5,321.8 72.3,322.3 73.0,321.8 73.8,320.4 74.6,321.9 75.4,320.8 76.2,320.4 77.0,320.5 77.8,320.5 78.6,319.7 79.4,318.9 80.2,318.2 81.0,318.1 81.8,316.8 82.5,316.6 83.3,315.9 84.1,315.3 84.9,315.4 85.7,315.5 86.5,316.4 87.3,315.6 88.1,315.3 88.9,315.0 89.7,314.7 90.5,315.1 91.3,315.0 92.1,314.3 92.8,315.1 93.6,314.2 94.4,314.2 95.2,313.9 96.0,314.2 96.8,314.1 97.6,314.0 98.4,313.9 99.2,313.7 100.0,313.5 100.8,313.0 101.6,312.7 102.3,311.5 103.1,311.1 103.9,309.9 104.7,309.7 105.5,312.1 106.3,314.1 107.1,313.8 107.9,314.1 108.7,314.0 109.5,313.0 110.3,313.8 111.1,314.8 111.8,314.1 112.6,314.3 113.4,315.4 114.2,315.9 115.0,316.1 115.8,316.2 116.6,316.3 117.4,316.4 118.2,316.6 119.0,315.7 119.8,314.4 120.6,314.9 121.3,317.4 122.1,318.1 122.9,317.7 123.7,317.7 124.5,316.9 125.3,317.5 126.1,317.9 126.9,317.1 127.7,317.6 128.5,318.0 129.3,317.7 130.1,317.6 130.9,318.0 131.6,319.2 132.4,318.4 133.2,318.1 134.0,318.1 134.8,317.4 135.6,316.7 136.4,317.2 137.2,317.1 138.0,315.3 138.8,316.0 139.6,315.9 140.4,315.0 141.1,314.6 141.9,314.9 142.7,314.2 143.5,315.3 144.3,316.0 145.1,316.1 145.9,316.1 146.7,316.9 147.5,316.7 148.3,317.0 149.1,316.0 149.9,318.3 150.6,317.1 151.4,317.2 152.2,316.7 153.0,316.2 153.8,316.9 154.6,317.5 155.4,318.7 156.2,318.7 157.0,317.9 157.8,316.6 158.6,315.9 159.4,315.3 160.2,315.5 160.9,314.9 161.7,314.5 162.5,314.8 163.3,315.3 164.1,315.0 164.9,315.7 165.7,314.9 166.5,316.5 167.3,316.2 168.1,317.3 168.9,317.6 169.7,318.6 170.4,319.4 171.2,319.7 172.0,319.8 172.8,319.4 173.6,318.9 174.4,317.9 175.2,316.4 176.0,317.6 176.8,316.5 177.6,316.8 178.4,315.9 179.2,315.0 179.9,314.9 180.7,314.1 181.5,315.4 182.3,314.4 183.1,315.5 183.9,315.0 184.7,315.2 185.5,316.5 186.3,315.7 187.1,315.2 187.9,314.9 188.7,315.7 189.4,316.0 190.2,316.7 191.0,314.9 191.8,314.2 192.6,314.5 193.4,314.7 194.2,315.6 195.0,314.7 195.8,314.0 196.6,314.3 197.4,313.6 198.2,313.4 199.0,314.1 199.7,313.3 200.5,314.7 201.3,314.5 202.1,314.3 202.9,314.0 203.7,314.2 204.5,314.4 205.3,315.2 206.1,315.7 206.9,315.2 207.7,315.3 208.5,315.3 209.2,315.0 210.0,314.6 210.8,315.2 211.6,315.0 212.4,315.2 213.2,314.8 214.0,315.1 214.8,314.0 215.6,315.0 216.4,314.1 217.2,313.0 218.0,313.2 218.7,313.0 219.5,311.8 220.3,313.1 221.1,314.0 221.9,314.6 222.7,314.2 223.5,313.9 224.3,314.4 225.1,314.0 225.9,313.4 226.7,313.7 227.5,314.5 228.3,314.2 229.0,314.5 229.8,315.7 230.6,315.4 231.4,315.1 232.2,315.6 233.0,316.3 233.8,315.4 234.6,315.0 235.4,314.6 236.2,316.3 237.0,314.3 237.8,316.2 238.5,315.6 239.3,315.7 240.1,316.1 240.9,316.7 241.7,317.6 242.5,316.5 243.3,316.3 244.1,316.3 244.9,313.2 245.7,315.7 246.5,316.8 247.3,318.0 248.0,316.1 248.8,315.4 249.6,315.0 250.4,315.3 251.2,317.4 252.0,318.6 252.8,320.8 253.6,321.7 254.4,321.9 255.2,322.9 256.0,323.1 256.8,323.6 257.5,322.8 258.3,323.1 259.1,323.4 259.9,322.0 260.7,322.1 261.5,320.7 262.3,319.0 263.1,319.2 263.9,318.3 264.7,318.2 265.5,317.0 266.3,315.8 267.1,316.3 267.8,315.4 268.6,316.5 269.4,317.8 270.2,318.5 271.0,316.9 271.8,316.1 272.6,316.6 273.4,316.7 274.2,316.6 275.0,318.1 275.8,318.7 276.6,319.6 277.3,319.4 278.1,320.1 278.9,320.9 279.7,320.1 280.5,319.9 281.3,317.1 282.1,315.1 282.9,314.0 283.7,315.1 284.5,315.2 285.3,314.6 286.1,315.1 286.8,314.4 287.6,314.1 288.4,313.3 289.2,313.1 290.0,313.8 290.8,314.5 291.6,313.5 292.4,314.5 293.2,312.9 294.0,313.7 294.8,314.7 295.6,312.3 296.4,312.8 297.1,313.9 297.9,313.4 298.7,313.6 299.5,313.5 300.3,314.3 301.1,314.1 301.9,313.8 302.7,313.8 303.5,313.2 304.3,313.5 305.1,312.4 305.9,313.8 306.6,313.3 307.4,314.3 308.2,315.7 309.0,316.6 309.8,319.3 310.6,320.3 311.4,321.9 312.2,322.8 313.0,322.8 313.8,322.3 314.6,321.5 315.4,320.7 316.1,321.0 316.9,321.7 317.7,321.4 318.5,320.4 319.3,320.2 320.1,319.5 320.9,318.8 321.7,319.6 322.5,319.9 323.3,319.2 324.1,318.7 324.9,318.7 325.6,319.0 326.4,319.0 327.2,319.3 328.0,319.0 328.8,319.8 329.6,320.0 330.4,321.3 331.2,321.2 332.0,322.4 332.8,321.4 333.6,321.5 334.4,320.8 335.2,321.2 335.9,320.4 336.7,319.3 337.5,320.7 338.3,319.4 339.1,318.9 339.9,319.2 340.7,318.8 341.5,318.7 342.3,320.0 343.1,319.6 343.9,319.4 344.7,318.5 345.4,317.7 346.2,316.7 347.0,315.8 347.8,315.0 348.6,315.4 349.4,313.5 350.2,313.5 351.0,313.3 351.8,313.9 352.6,314.2 353.4,314.2 354.2,314.6 354.9,315.8 355.7,314.9 356.5,314.2 357.3,316.6 358.1,315.6 358.9,316.2 359.7,316.8 360.5,316.5 361.3,318.4 362.1,318.6 362.9,318.8 363.7,320.2 364.5,320.5 365.2,320.6 366.0,321.1 366.8,319.9 367.6,320.6 368.4,319.2 369.2,319.3 370.0,318.0 370.8,319.1 371.6,321.0 372.4,320.3 373.2,321.2 374.0,321.3 374.7,320.8 375.5,322.4 376.3,322.9 377.1,322.3 377.9,323.4 378.7,323.0 379.5,323.5 380.3,324.1 381.1,323.7 381.9,323.1 382.7,323.3 383.5,323.7 384.2,323.7 385.0,323.7 385.8,323.8 386.6,322.6 387.4,323.4 388.2,323.9 389.0,323.5 389.8,322.8 390.6,322.7 391.4,322.9 392.2,323.1 393.0,322.9 393.7,323.9 394.5,323.9 395.3,323.2 396.1,323.9 396.9,323.4 397.7,323.0 398.5,323.1 399.3,323.3 400.1,322.6 400.9,323.6 401.7,324.4 402.5,324.3 403.3,324.0 404.0,324.2 404.8,323.3 405.6,323.0 406.4,322.8 407.2,320.9 408.0,319.9 408.8,319.2 409.6,319.2 410.4,318.1 411.2,317.4 412.0,316.8 412.8,316.9 413.5,315.5 414.3,316.1 415.1,315.7 415.9,315.0 416.7,315.9 417.5,316.0 418.3,315.6 419.1,316.5 419.9,316.7 420.7,316.8 421.5,316.7 422.3,318.4 423.0,317.3 423.8,316.8 424.6,316.4 425.4,316.2 426.2,316.8 427.0,316.9 427.8,318.0 428.6,318.2 429.4,318.8 430.2,319.7 431.0,319.6 431.8,319.2 432.6,320.1 433.3,320.8 434.1,320.8 434.9,321.4 435.7,321.0 436.5,320.7 437.3,321.5 438.1,321.2 438.9,320.2 439.7,320.6 440.5,319.6 441.3,319.4 442.1,318.5 442.8,317.6 443.6,315.6 444.4,316.7 445.2,316.7 446.0,317.2 446.8,317.8 447.6,318.2 448.4,319.2 449.2,319.2 450.0,320.4 450.8,320.3 451.6,320.2 452.3,318.5 453.1,317.9 453.9,316.4 454.7,315.4 455.5,315.5 456.3,316.5 457.1,315.4 457.9,316.1 458.7,316.3 459.5,316.4 460.3,316.5 461.1,316.1 461.8,316.6 462.6,316.2 463.4,315.4 464.2,315.5 465.0,315.7 465.8,315.8 466.6,315.9 467.4,315.6 468.2,315.2 469.0,316.3 469.8,315.2 470.6,315.4 471.4,315.9 472.1,315.3 472.9,316.3 473.7,316.7 474.5,316.8 475.3,316.7 476.1,316.1 476.9,315.7 477.7,314.9 478.5,315.7 479.3,314.8 480.1,315.9 480.9,315.9 481.6,316.0 482.4,316.4 483.2,316.5 484.0,316.4 484.8,316.0 485.6,315.9 486.4,316.0 487.2,316.9 488.0,316.7 488.8,316.6 489.6,315.9 490.4,316.8 491.1,315.1 491.9,315.7 492.7,315.6 493.5,315.2 494.3,315.1 495.1,315.6 495.9,315.5 496.7,316.3 497.5,316.3 498.3,316.7 499.1,317.6 499.9,317.2 500.7,318.0 501.4,318.3 502.2,319.0 503.0,319.0 503.8,318.8 504.6,320.2 505.4,319.8 506.2,320.5 507.0,321.0 507.8,321.3 508.6,319.5 509.4,318.4 510.2,318.4 510.9,317.5 511.7,318.0 512.5,316.2 513.3,318.0 514.1,318.5 514.9,320.9 515.7,320.9 516.5,321.8 517.3,320.1 518.1,319.7 518.9,320.1 519.7,319.3 520.4,321.2 521.2,321.2 522.0,320.5 522.8,320.3 523.6,318.8 524.4,318.0 525.2,318.6 526.0,318.5 526.8,317.1 527.6,317.5 528.4,317.4 529.2,316.7 529.9,317.1 530.7,316.3 531.5,316.5 532.3,316.1 533.1,315.1 533.9,316.5 534.7,315.8 535.5,317.1 536.3,317.1 537.1,316.2 537.9,315.5 538.7,316.3 539.5,317.3 540.2,316.8 541.0,316.5 541.8,317.2 542.6,317.2 543.4,316.2 544.2,316.6 545.0,317.1 545.8,316.8 546.6,317.0 547.4,316.7 548.2,316.9 549.0,316.6 549.7,317.1 550.5,318.3 551.3,317.7 552.1,317.8 552.9,318.4 553.7,318.6 554.5,319.7 555.3,320.5 556.1,320.3 556.9,321.8 557.7,322.3 558.5,320.7 559.2,321.3 560.0,320.8 560.8,321.0 561.6,320.7 562.4,320.5 563.2,320.3 564.0,320.0 564.8,321.3 565.6,319.7 566.4,320.2 567.2,319.8 568.0,318.8 568.8,319.4 569.5,320.3 570.3,319.1 571.1,320.3 571.9,319.9 572.7,319.9 573.5,319.3 574.3,319.9 575.1,319.0 575.9,319.5 576.7,318.9 577.5,320.3 578.3,320.5 579.0,319.5 579.8,320.2 580.6,320.3 581.4,319.5 582.2,320.4 583.0,321.0 583.8,320.5 584.6,321.4 585.4,320.4 586.2,320.4 587.0,321.2 587.8,321.2 588.5,320.8 589.3,320.9 590.1,321.3 590.9,320.7 591.7,321.8 592.5,321.1 593.3,321.1 594.1,320.8 594.9,320.1 595.7,320.2 596.5,318.9 597.3,318.7 598.0,318.4 598.8,318.1 599.6,317.6 600.4,316.7 601.2,317.0 602.0,316.3 602.8,316.2 603.6,316.7 604.4,317.0 605.2,318.3 606.0,319.1 606.8,318.6 607.6,318.4 608.3,317.5 609.1,317.5 609.9,316.7 610.7,316.8 611.5,316.9 612.3,317.0 613.1,316.9 613.9,316.8 614.7,316.6 615.5,316.2 616.3,317.1 617.1,316.2 617.8,317.2 618.6,316.5 619.4,316.7 620.2,316.5 621.0,315.4 621.8,316.5 622.6,317.1 623.4,316.9 624.2,317.1 625.0,316.4 625.8,317.7 626.6,317.6 627.3,317.9 628.1,316.8 628.9,316.1 629.7,315.3 630.5,316.1 631.3,315.3 632.1,315.2 632.9,315.8 633.7,315.3 634.5,315.4 635.3,316.5 636.1,315.5 636.9,315.8 637.6,316.5 638.4,317.5 639.2,316.7 640.0,317.8 640.8,317.9 641.6,318.0 642.4,319.2 643.2,318.9 644.0,319.7 644.8,319.8 645.6,319.9 646.4,320.1 647.1,319.7 647.9,320.2 648.7,320.2 649.5,320.1 650.3,319.7 651.1,320.1 651.9,319.7 652.7,319.4 653.5,319.5 654.3,319.2 655.1,319.4 655.9,318.3 656.6,318.8 657.4,319.5 658.2,319.9 659.0,319.3 659.8,320.5 660.6,321.1 661.4,321.2 662.2,321.3 663.0,321.0 663.8,321.8 664.6,320.8 665.4,322.0 666.1,321.2 666.9,321.9 667.7,320.5 668.5,321.2 669.3,321.0 670.1,320.6 670.9,320.5 671.7,321.7 672.5,321.4 673.3,321.8 674.1,321.0 674.9,321.0 675.7,320.9 676.4,320.8 677.2,320.4 678.0,320.4 678.8,320.2 679.6,320.1 680.4,322.0 681.2,321.4 682.0,321.7 682.8,321.5 683.6,322.2 684.4,321.9 685.2,322.3 685.9,321.5 686.7,321.7 687.5,321.6 688.3,321.3 689.1,321.4 689.9,321.7 690.7,320.5 691.5,320.3 692.3,320.4 693.1,319.7 693.9,319.5 694.7,320.5 695.4,320.4 696.2,319.5 697.0,319.6 697.8,320.6 698.6,320.8 699.4,320.5 700.2,320.4 701.0,320.8 701.8,320.0 702.6,320.6 703.4,320.6 704.2,319.8 705.0,320.6 705.7,320.4 706.5,320.1 707.3,320.1 708.1,320.7 708.9,320.6 709.7,321.1 710.5,319.8 711.3,320.3 712.1,320.9 712.9,320.4 713.7,320.0 714.5,320.1 715.2,319.5 716.0,319.7 716.8,320.6 717.6,320.3 718.4,320.8 719.2,320.0 720.0,320.0 720.8,318.8 721.6,320.0 722.4,321.1 723.2,320.5 724.0,320.2 724.7,320.9 725.5,320.7 726.3,320.5 727.1,320.2 727.9,319.7 728.7,319.2 729.5,318.2 730.3,319.0 731.1,319.1 731.9,319.6 732.7,319.4 733.5,318.8 734.2,319.8 735.0,318.6 735.8,317.5 736.6,317.5 737.4,318.3 738.2,319.9 739.0,318.9 739.8,318.8 740.6,319.0 741.4,319.8 742.2,319.3 743.0,318.2 743.8,317.8 744.5,318.2 745.3,317.6 746.1,318.2 746.9,317.8 747.7,317.8 748.5,317.7 749.3,318.7 750.1,317.7 750.9,317.5 751.7,318.5 752.5,318.5 753.3,317.7 754.0,318.0 754.8,318.8 755.6,317.4 756.4,317.7 757.2,317.9 758.0,316.8 758.8,317.4 759.6,317.6 760.4,316.9 761.2,317.2 762.0,317.0 762.8,316.5 763.5,316.9 764.3,316.8 765.1,315.6 765.9,315.6 766.7,315.8 767.5,316.2 768.3,316.6 769.1,316.6 769.9,317.4 770.7,316.8 771.5,318.2 772.3,318.1 773.1,318.8 773.8,318.5 774.6,318.4 775.4,318.1 776.2,319.3 777.0,319.1 777.8,319.5 778.6,319.8 779.4,320.4 780.2,320.1 781.0,321.1 781.8,320.3 782.6,320.3 783.3,320.6 784.1,320.8 784.9,321.0 785.7,319.5 786.5,320.9 787.3,319.7 788.1,320.1 788.9,320.5 789.7,320.9 790.5,319.7 791.3,319.2 792.1,320.2 792.8,319.8 793.6,319.4 794.4,319.9 795.2,319.4 796.0,320.7 796.8,320.5 797.6,321.5 798.4,320.1 799.2,321.3 800.0,321.8 800.8,320.8 801.6,320.6 802.3,319.5 803.1,320.3 803.9,320.0 804.7,319.5 805.5,318.9 806.3,319.0 807.1,317.7 807.9,317.2 808.7,316.7 809.5,315.9 810.3,316.2 811.1,316.9 811.9,316.4 812.6,318.1 813.4,317.4 814.2,318.1 815.0,319.1 815.8,319.9 816.6,320.2 817.4,320.4 818.2,320.7 819.0,321.0 819.8,320.9 820.6,321.7 821.4,321.3 822.1,322.0 822.9,321.0 823.7,321.2 824.5,321.3 825.3,320.6 826.1,320.7 826.9,322.2 827.7,320.8 828.5,321.4 829.3,320.2 830.1,319.5 830.9,320.8 831.6,320.5 832.4,320.6 833.2,320.3 834.0,320.1 834.8,319.8 835.6,320.8 836.4,319.7 837.2,320.8 838.0,320.2 838.8,319.8 839.6,320.0 840.4,320.8 841.2,320.7 841.9,320.5 842.7,320.4 843.5,319.8 844.3,320.9 845.1,320.1 845.9,320.1 846.7,320.1 847.5,320.1 848.3,319.7 849.1,320.1 849.9,320.0 850.7,320.2 851.4,319.8 852.2,321.5 853.0,320.1 853.8,320.8 854.6,320.8 855.4,321.1 856.2,321.5 857.0,320.9 857.8,320.9 858.6,320.3 859.4,321.1 860.2,319.8 860.9,320.2 861.7,320.5 862.5,320.8 863.3,320.8 864.1,321.0 864.9,320.8 865.7,320.6 866.5,320.7 867.3,321.3 868.1,320.8 868.9,321.2 869.7,320.7 870.4,320.0 871.2,320.6 872.0,321.1 872.8,321.7 873.6,321.6 874.4,321.8 875.2,320.8 876.0,321.5 876.8,321.1 877.6,321.5 878.4,321.2 879.2,320.7 880.0,321.6 880.7,321.5 881.5,321.8 882.3,321.2 883.1,322.1 883.9,322.5 884.7,323.9 885.5,323.2 886.3,321.6 887.1,320.4 887.9,321.7 888.7,320.6 889.5,320.7 890.2,321.1 891.0,320.5 891.8,320.3 892.6,320.3 893.4,318.9 894.2,320.4 895.0,319.1 895.8,318.9 896.6,319.1 897.4,318.5 898.2,318.0 899.0,318.2 899.7,317.9 900.5,317.6 901.3,318.7 902.1,316.8 902.9,316.2 903.7,316.5 904.5,316.3 905.3,317.2 906.1,316.5 906.9,316.7 907.7,316.5 908.5,315.8 909.3,316.6 910.0,316.1 910.8,316.6 911.6,315.7 912.4,315.4 913.2,315.6 914.0,315.6 914.8,314.5 915.6,315.9 916.4,315.8 917.2,315.5 918.0,314.3 918.8,313.6 919.5,314.3 920.3,315.1 921.1,315.2 921.9,314.8 922.7,315.7 923.5,314.7 924.3,314.7 925.1,315.3 925.9,315.0 926.7,314.9 927.5,314.4 928.3,315.4 929.0,314.3 929.8,315.0 930.6,315.3 931.4,315.1 932.2,315.4 933.0,316.2 933.8,317.0 934.6,317.3 935.4,316.3 936.2,315.6 937.0,315.6 937.8,314.9 938.5,315.4 939.3,315.1 940.1,314.7 940.9,315.0 941.7,314.3 942.5,313.2 943.3,313.4 944.1,314.6 944.9,314.5 945.7,315.1 946.5,314.9 947.3,315.6 948.1,316.0 948.8,315.3 949.6,314.9 950.4,314.7 951.2,315.0 952.0,314.9 952.8,315.3 953.6,315.5 954.4,317.6 955.2,318.5 956.0,320.0 956.8,321.2 957.6,322.5 958.3,323.4 959.1,323.4 959.9,324.0 960.7,325.0 961.5,324.2 962.3,324.8 963.1,325.8 963.9,325.2 964.7,325.9 965.5,324.7 966.3,324.9 967.1,324.8 967.8,324.2 968.6,324.0 969.4,322.9 970.2,322.3 971.0,322.1 971.8,322.2 972.6,323.5" fill="none" stroke="#2ca02c" stroke-width="2.15" stroke-linejoin="round" stroke-linecap="butt" clip-path="url(#c2)"/>
<line x1="58.0" y1="322.75" x2="972.6" y2="322.75" stroke="#1f77b4" stroke-opacity="0.8" stroke-width="1.6"/>
<line x1="98.8" y1="445.6" x2="98.8" y2="528.4" stroke="#e4e4e4" stroke-width="0.9"/>
<line x1="140.1" y1="445.6" x2="140.1" y2="528.4" stroke="#e4e4e4" stroke-width="0.9"/>
<line x1="181.4" y1="445.6" x2="181.4" y2="528.4" stroke="#e4e4e4" stroke-width="0.9"/>
<line x1="222.7" y1="445.6" x2="222.7" y2="528.4" stroke="#e4e4e4" stroke-width="0.9"/>
<line x1="264.1" y1="445.6" x2="264.1" y2="528.4" stroke="#e4e4e4" stroke-width="0.9"/>
<line x1="305.4" y1="445.6" x2="305.4" y2="528.4" stroke="#e4e4e4" stroke-width="0.9"/>
<line x1="346.7" y1="445.6" x2="346.7" y2="528.4" stroke="#e4e4e4" stroke-width="0.9"/>
<line x1="388.0" y1="445.6" x2="388.0" y2="528.4" stroke="#e4e4e4" stroke-width="0.9"/>
<line x1="429.4" y1="445.6" x2="429.4" y2="528.4" stroke="#e4e4e4" stroke-width="0.9"/>
<line x1="470.7" y1="445.6" x2="470.7" y2="528.4" stroke="#e4e4e4" stroke-width="0.9"/>
<line x1="512.0" y1="445.6" x2="512.0" y2="528.4" stroke="#e4e4e4" stroke-width="0.9"/>
<line x1="553.3" y1="445.6" x2="553.3" y2="528.4" stroke="#e4e4e4" stroke-width="0.9"/>
<line x1="594.7" y1="445.6" x2="594.7" y2="528.4" stroke="#e4e4e4" stroke-width="0.9"/>
<line x1="635.9" y1="445.6" x2="635.9" y2="528.4" stroke="#e4e4e4" stroke-width="0.9"/>
<line x1="677.2" y1="445.6" x2="677.2" y2="528.4" stroke="#e4e4e4" stroke-width="0.9"/>
<line x1="718.5" y1="445.6" x2="718.5" y2="528.4" stroke="#e4e4e4" stroke-width="0.9"/>
<line x1="759.9" y1="445.6" x2="759.9" y2="528.4" stroke="#e4e4e4" stroke-width="0.9"/>
<line x1="801.2" y1="445.6" x2="801.2" y2="528.4" stroke="#e4e4e4" stroke-width="0.9"/>
<line x1="842.5" y1="445.6" x2="842.5" y2="528.4" stroke="#e4e4e4" stroke-width="0.9"/>
<line x1="883.8" y1="445.6" x2="883.8" y2="528.4" stroke="#e4e4e4" stroke-width="0.9"/>
<line x1="925.2" y1="445.6" x2="925.2" y2="528.4" stroke="#e4e4e4" stroke-width="0.9"/>
<line x1="966.5" y1="445.6" x2="966.5" y2="528.4" stroke="#e4e4e4" stroke-width="0.9"/>
<line x1="58.0" y1="527.2" x2="972.6" y2="527.2" stroke="#e4e4e4" stroke-width="0.9"/>
<line x1="58.0" y1="486.8" x2="972.6" y2="486.8" stroke="#e4e4e4" stroke-width="0.9"/>
<line x1="58.0" y1="446.4" x2="972.6" y2="446.4" stroke="#e4e4e4" stroke-width="0.9"/>
<polyline points="180.7,454.6 181.5,450.8 182.3,452.1 183.1,452.2 183.9,456.7 184.7,457.4 185.5,453.4 186.3,448.8 187.1,446.4 187.9,449.2 188.7,450.9 189.4,452.7 190.2,450.7 191.0,451.5 191.8,450.6 192.6,449.5 193.4,447.9 194.2,448.8 195.0,451.2 195.8,455.1 196.6,458.3 197.4,457.6 198.2,457.7 199.0,456.2 199.7,455.4 200.5,453.6 201.3,451.2 202.1,446.4 202.9,446.4 203.7,447.0 204.5,449.3 205.3,451.7 206.1,455.7 206.9,459.7 207.7,468.5 208.5,476.4 209.2,477.3 210.0,474.0 210.8,467.0 211.6,456.3 212.4,446.4 213.2,448.4 214.0,454.1 214.8,461.2 215.6,458.5 216.4,455.5 217.2,447.2 218.0,446.4 218.7,446.5 219.5,447.3 220.3,448.2 221.1,450.7 221.9,450.5 222.7,447.2 223.5,450.6 224.3,452.3 225.1,451.9 225.9,453.7 226.7,451.5 227.5,448.7 228.3,451.8 229.0,454.4 229.8,456.1 230.6,459.9 231.4,464.2 232.2,467.0 233.0,470.4 233.8,465.9 234.6,458.0 235.4,461.3 236.2,463.9 237.0,468.5 237.8,471.8 238.5,475.6 239.3,478.4 240.1,473.4 240.9,470.2 241.7,465.2 242.5,464.7 243.3,465.5 244.1,471.2 244.9,473.8 245.7,479.3 246.5,481.6 247.3,484.9 248.0,486.0 248.8,487.1 249.6,491.2 250.4,493.0 251.2,494.5 252.0,494.0 252.8,495.9 253.6,498.0 254.4,495.8 255.2,496.5 256.0,500.2 256.8,500.2 257.5,497.7 258.3,499.0 259.1,497.8 259.9,494.1 260.7,488.7 261.5,486.2 262.3,482.9 263.1,481.4 263.9,480.5 264.7,478.8 265.5,478.2 266.3,477.7 267.1,476.7 267.8,473.1 268.6,475.6 269.4,476.9 270.2,480.6 271.0,477.8 271.8,476.0 272.6,474.4 273.4,468.6 274.2,466.0 275.0,466.3 275.8,467.6 276.6,470.5 277.3,477.6 278.1,480.0 278.9,485.2 279.7,489.3 280.5,494.8 281.3,489.6 282.1,484.4 282.9,478.4 283.7,474.9 284.5,476.3 285.3,478.2 286.1,482.9 286.8,484.0 287.6,481.9 288.4,473.4 289.2,474.7 290.0,475.4 290.8,476.3 291.6,476.8 292.4,476.7 293.2,477.2 294.0,477.3 294.8,477.3 295.6,477.1 296.4,482.2 297.1,485.9 297.9,489.3 298.7,481.4 299.5,465.0 300.3,463.1 301.1,462.5 301.9,459.3 302.7,456.7 303.5,455.1 304.3,455.1 305.1,459.7 305.9,464.9 306.6,464.8 307.4,458.7 308.2,457.5 309.0,462.4 309.8,470.1 310.6,471.5 311.4,476.9 312.2,480.0 313.0,485.9 313.8,495.8 314.6,498.0 315.4,495.7 316.1,492.9 316.9,486.8 317.7,477.3 318.5,471.1 319.3,470.6 320.1,473.5 320.9,482.1 321.7,484.5 322.5,481.2 323.3,477.0 324.1,471.8 324.9,474.9 325.6,472.7 326.4,473.8 327.2,479.4 328.0,482.7 328.8,484.4 329.6,491.2 330.4,499.7 331.2,510.7 332.0,520.7 332.8,527.2 333.6,527.2 334.4,527.2 335.2,526.3 335.9,525.2 336.7,523.4 337.5,522.8 338.3,521.5 339.1,521.0 339.9,521.2 340.7,520.2 341.5,519.1 342.3,514.1 343.1,503.0 343.9,494.6 344.7,492.2 345.4,491.4 346.2,491.0 347.0,487.1 347.8,486.8 348.6,483.9 349.4,480.0 350.2,478.5 351.0,474.7 351.8,473.6 352.6,470.5 353.4,470.0 354.2,468.3 354.9,469.3 355.7,474.0 356.5,479.7 357.3,485.4 358.1,487.6 358.9,488.6 359.7,490.5 360.5,490.1 361.3,492.2 362.1,494.2 362.9,499.5 363.7,501.9 364.5,501.7 365.2,498.8 366.0,495.1 366.8,490.9 367.6,488.9 368.4,489.0 369.2,489.9 370.0,491.2 370.8,495.7 371.6,498.8 372.4,501.5 373.2,504.3 374.0,501.6 374.7,502.2 375.5,510.8 376.3,520.3 377.1,517.6 377.9,516.6 378.7,516.8 379.5,515.7 380.3,513.7 381.1,515.8 381.9,520.0 382.7,518.5 383.5,521.0 384.2,520.5 385.0,521.4 385.8,520.4 386.6,520.3 387.4,515.8 388.2,519.9 389.0,519.9 389.8,521.4 390.6,517.5 391.4,517.5 392.2,520.2 393.0,522.8 393.7,522.8 394.5,516.9 395.3,515.6 396.1,516.5 396.9,515.8 397.7,517.1 398.5,518.0 399.3,522.2 400.1,526.9 400.9,526.6 401.7,522.0 402.5,517.5 403.3,517.0 404.0,517.1 404.8,520.8 405.6,520.4 406.4,517.9 407.2,515.2 408.0,506.2 408.8,502.0 409.6,497.4 410.4,497.0 411.2,493.2 412.0,491.2 412.8,489.1 413.5,485.1 414.3,482.7 415.1,478.4 415.9,476.2 416.7,478.1 417.5,478.0 418.3,478.4 419.1,477.9 419.9,479.6 420.7,477.9 421.5,478.7 422.3,475.0 423.0,475.4 423.8,473.8 424.6,469.4 425.4,466.2 426.2,467.8 427.0,466.4 427.8,465.6 428.6,470.5 429.4,473.5 430.2,479.2 431.0,482.8 431.8,481.7 432.6,482.2 433.3,481.7 434.1,484.3 434.9,485.9 435.7,488.2 436.5,485.1 437.3,488.2 438.1,488.0 438.9,485.9 439.7,483.1 440.5,477.9 441.3,468.6 442.1,465.1 442.8,458.8 443.6,451.9 444.4,451.3 445.2,448.4 446.0,448.3 446.8,450.9 447.6,450.2 448.4,446.4 449.2,446.4 450.0,458.5 450.8,464.1 451.6,467.6 452.3,459.5 453.1,456.5 453.9,450.5 454.7,446.8 455.5,446.4 456.3,446.4 457.1,446.4 457.9,446.4 458.7,446.4 459.5,447.4 460.3,446.4 461.1,446.4 461.8,446.4 462.6,446.4 463.4,446.4 464.2,446.4 465.0,446.4 465.8,448.5 466.6,447.3 467.4,447.0 468.2,447.2 469.0,446.4 469.8,447.6 470.6,448.9 471.4,449.4 472.1,451.4 472.9,451.0 473.7,449.7 474.5,447.3 475.3,446.4 476.1,446.4 476.9,447.4 477.7,448.7 478.5,450.7 479.3,451.9 480.1,453.9 480.9,457.6 481.6,458.9 482.4,460.1 483.2,458.8 484.0,459.5 484.8,464.1 485.6,465.7 486.4,470.0 487.2,468.1 488.0,465.4 488.8,462.9 489.6,461.2 490.4,459.1 491.1,460.5 491.9,461.0 492.7,461.9 493.5,460.4 494.3,459.2 495.1,457.3 495.9,455.6 496.7,454.1 497.5,455.1 498.3,454.1 499.1,455.4 499.9,456.8 500.7,458.5 501.4,461.2 502.2,463.0 503.0,464.4 503.8,468.4 504.6,472.9 505.4,477.4 506.2,477.2 507.0,477.9 507.8,477.0 508.6,476.6 509.4,476.7 510.2,473.2 510.9,472.3 511.7,471.7 512.5,466.8 513.3,466.8 514.1,467.8 514.9,473.1 515.7,478.1 516.5,481.7 517.3,473.0 518.1,467.6 518.9,465.5 519.7,468.9 520.4,472.2 521.2,483.6 522.0,491.6 522.8,491.7 523.6,490.0 524.4,488.6 525.2,484.0 526.0,480.9 526.8,475.2 527.6,472.9 528.4,472.0 529.2,471.3 529.9,471.9 530.7,474.7 531.5,474.7 532.3,477.3 533.1,478.1 533.9,478.2 534.7,480.1 535.5,483.1 536.3,488.8 537.1,489.9 537.9,493.2 538.7,497.4 539.5,498.1 540.2,491.8 541.0,491.4 541.8,493.1 542.6,497.3 543.4,500.6 544.2,502.7 545.0,509.7 545.8,505.5 546.6,498.6 547.4,491.1 548.2,481.3 549.0,480.6 549.7,481.1 550.5,481.1 551.3,481.1 552.1,483.7 552.9,485.8 553.7,487.3 554.5,495.6 555.3,508.2 556.1,514.9 556.9,520.2 557.7,522.2 558.5,525.1 559.2,521.6 560.0,522.8 560.8,518.8 561.6,517.2 562.4,514.0 563.2,512.4 564.0,518.1 564.8,516.4 565.6,509.9 566.4,505.9 567.2,501.4 568.0,499.9 568.8,505.7 569.5,516.8 570.3,521.7 571.1,512.8 571.9,509.7 572.7,505.2 573.5,505.8 574.3,504.2 575.1,504.4 575.9,510.0 576.7,517.5 577.5,527.0 578.3,521.6 579.0,509.1 579.8,497.6 580.6,500.3 581.4,512.5 582.2,521.0 583.0,523.5 583.8,521.7 584.6,521.6 585.4,525.1 586.2,526.0 587.0,524.2 587.8,525.8 588.5,527.2 589.3,527.2 590.1,527.2 590.9,527.2 591.7,527.2 592.5,527.2 593.3,526.9 594.1,527.2 594.9,525.8 595.7,525.8 596.5,527.1 597.3,527.2 598.0,527.2 598.8,527.2 599.6,527.2 600.4,527.2 601.2,526.6 602.0,525.4 602.8,523.6 603.6,521.4 604.4,519.6 605.2,518.9 606.0,525.8 606.8,527.2 607.6,524.9 608.3,520.0 609.1,520.8 609.9,522.5 610.7,522.8 611.5,523.1 612.3,526.7 613.1,527.2 613.9,527.2 614.7,527.2 615.5,525.6 616.3,525.0 617.1,520.8 617.8,518.8 618.6,523.8 619.4,527.2 620.2,527.2 621.0,524.4 621.8,523.1 622.6,519.6 623.4,516.5 624.2,514.8 625.0,513.3 625.8,508.1 626.6,505.7 627.3,500.7 628.1,495.2 628.9,493.4 629.7,493.3 630.5,486.1 631.3,485.3 632.1,486.5 632.9,489.6 633.7,497.1 634.5,502.5 635.3,504.4 636.1,504.6 636.9,502.9 637.6,499.2 638.4,497.9 639.2,492.5 640.0,491.0 640.8,485.2 641.6,480.7 642.4,475.6 643.2,473.7 644.0,472.5 644.8,470.6 645.6,469.5 646.4,466.1 647.1,462.7 647.9,461.5 648.7,462.5 649.5,463.5 650.3,465.2 651.1,463.6 651.9,465.9 652.7,467.1 653.5,468.5 654.3,468.8 655.1,469.9 655.9,470.1 656.6,471.0 657.4,469.3 658.2,469.6 659.0,475.5 659.8,482.9 660.6,488.8 661.4,494.7 662.2,498.7 663.0,499.5 663.8,496.9 664.6,496.5 665.4,501.4 666.1,505.4 666.9,513.5 667.7,514.9 668.5,516.6 669.3,510.9 670.1,510.0 670.9,504.5 671.7,501.7 672.5,500.0 673.3,499.5 674.1,496.7 674.9,496.6 675.7,489.9 676.4,485.9 677.2,478.8 678.0,474.0 678.8,475.6 679.6,477.7 680.4,478.6 681.2,483.7 682.0,487.0 682.8,488.3 683.6,490.4 684.4,487.7 685.2,490.2 685.9,497.3 686.7,503.0 687.5,510.2 688.3,503.0 689.1,496.2 689.9,495.3 690.7,497.3 691.5,493.5 692.3,489.5 693.1,482.6 693.9,474.2 694.7,466.4 695.4,461.4 696.2,455.6 697.0,452.8 697.8,451.2 698.6,447.6 699.4,450.5 700.2,452.6 701.0,454.6 701.8,457.0 702.6,471.5 703.4,480.9 704.2,497.0 705.0,505.3 705.7,510.9 706.5,500.1 707.3,487.7 708.1,476.5 708.9,471.8 709.7,469.5 710.5,467.1 711.3,467.6 712.1,461.1 712.9,453.7 713.7,446.8 714.5,447.5 715.2,446.4 716.0,446.4 716.8,447.4 717.6,453.3 718.4,457.6 719.2,453.1 720.0,450.4 720.8,447.9 721.6,446.4 722.4,446.4 723.2,446.4 724.0,446.4 724.7,446.5 725.5,449.2 726.3,457.8 727.1,467.0 727.9,480.2 728.7,489.3 729.5,496.9 730.3,498.6 731.1,496.6 731.9,496.0 732.7,494.8 733.5,494.2 734.2,491.9 735.0,493.1 735.8,492.2 736.6,494.0 737.4,493.5 738.2,496.0 739.0,497.9 739.8,498.4 740.6,506.0 741.4,508.4 742.2,496.4 743.0,470.1 743.8,463.7 744.5,461.6 745.3,459.8 746.1,454.5 746.9,450.9 747.7,448.2 748.5,449.8 749.3,456.9 750.1,465.8 750.9,473.7 751.7,474.0 752.5,476.6 753.3,482.8 754.0,487.8 754.8,476.6 755.6,461.1 756.4,460.5 757.2,457.2 758.0,457.1 758.8,457.2 759.6,458.2 760.4,456.7 761.2,457.6 762.0,457.6 762.8,458.5 763.5,460.3 764.3,459.4 765.1,460.6 765.9,461.1 766.7,449.4 767.5,446.4 768.3,449.7 769.1,454.6 769.9,466.3 770.7,466.0 771.5,466.2 772.3,468.3 773.1,480.0 773.8,485.7 774.6,480.4 775.4,479.4 776.2,476.7 777.0,481.9 777.8,482.2 778.6,486.7 779.4,488.4 780.2,493.2 781.0,498.5 781.8,502.5 782.6,505.8 783.3,509.6 784.1,499.1 784.9,488.3 785.7,474.7 786.5,472.5 787.3,476.9 788.1,485.0 788.9,486.2 789.7,482.5 790.5,478.7 791.3,472.6 792.1,476.3 792.8,480.2 793.6,491.9 794.4,495.5 795.2,504.2 796.0,509.4 796.8,511.9 797.6,519.8 798.4,523.2 799.2,523.3 800.0,514.9 800.8,507.5 801.6,500.3 802.3,492.2 803.1,487.2 803.9,484.7 804.7,479.4 805.5,474.5 806.3,470.6 807.1,475.1 807.9,479.1 808.7,483.8 809.5,483.3 810.3,480.4 811.1,474.6 811.9,471.7 812.6,469.4 813.4,470.5 814.2,477.4 815.0,480.9 815.8,490.2 816.6,493.6 817.4,500.4 818.2,502.3 819.0,506.6 819.8,514.2 820.6,515.8 821.4,516.5 822.1,518.0 822.9,519.4 823.7,519.0 824.5,517.7 825.3,519.0 826.1,518.7 826.9,514.6 827.7,521.2 828.5,521.7 829.3,525.2 830.1,521.4 830.9,527.2 831.6,527.2 832.4,525.9 833.2,521.3 834.0,516.8 834.8,514.6 835.6,516.1 836.4,518.9 837.2,505.3 838.0,499.4 838.8,496.8 839.6,499.5 840.4,497.4 841.2,494.2 841.9,495.2 842.7,496.2 843.5,493.4 844.3,491.5 845.1,489.8 845.9,488.4 846.7,482.8 847.5,479.9 848.3,475.6 849.1,476.0 849.9,483.8 850.7,486.6 851.4,481.4 852.2,473.9 853.0,471.9 853.8,468.3 854.6,467.7 855.4,468.6 856.2,467.8 857.0,466.1 857.8,465.5 858.6,464.4 859.4,463.5 860.2,464.1 860.9,459.1 861.7,460.5 862.5,460.4 863.3,462.7 864.1,462.7 864.9,461.0 865.7,459.0 866.5,460.5 867.3,460.4 868.1,458.4 868.9,458.1 869.7,455.9 870.4,452.1 871.2,454.6 872.0,453.5 872.8,459.4 873.6,459.7 874.4,462.0 875.2,463.2 876.0,463.3 876.8,460.5 877.6,460.8 878.4,458.9 879.2,460.0 880.0,459.7 880.7,462.3 881.5,462.6 882.3,465.3 883.1,464.7 883.9,470.9 884.7,469.5 885.5,467.5 886.3,468.8 887.1,472.0 887.9,474.1 888.7,477.7 889.5,478.1 890.2,477.2 891.0,478.3 891.8,481.5 892.6,482.3 893.4,482.9 894.2,482.2 895.0,485.7 895.8,486.5 896.6,485.0 897.4,485.6 898.2,486.1 899.0,485.9 899.7,485.0 900.5,482.2 901.3,480.9 902.1,475.2 902.9,477.7 903.7,476.1 904.5,473.2 905.3,473.0 906.1,474.9 906.9,471.1 907.7,469.6 908.5,471.0 909.3,469.9 910.0,467.1 910.8,467.3 911.6,462.0 912.4,466.0 913.2,462.2 914.0,458.2 914.8,455.6 915.6,453.9 916.4,452.6 917.2,452.1 918.0,449.1 918.8,451.8 919.5,446.8 920.3,449.7 921.1,451.2 921.9,450.0 922.7,450.3 923.5,449.0 924.3,446.4 925.1,446.4 925.9,448.1 926.7,446.4 927.5,446.6 928.3,452.0 929.0,452.8 929.8,454.9 930.6,464.0 931.4,471.7 932.2,476.5 933.0,480.7 933.8,481.8 934.6,480.4 935.4,473.9 936.2,473.6 937.0,472.2 937.8,471.8 938.5,468.8 939.3,467.6 940.1,464.4 940.9,463.2 941.7,465.2 942.5,464.9 943.3,463.4 944.1,462.7 944.9,466.9 945.7,470.1 946.5,470.4 947.3,474.8 948.1,473.8 948.8,478.2 949.6,481.9 950.4,479.9 951.2,481.5 952.0,486.1 952.8,487.5 953.6,483.7 954.4,488.5 955.2,494.1 956.0,498.5 956.8,505.1 957.6,504.1 958.3,500.8 959.1,498.2 959.9,520.5 960.7,527.2 961.5,527.2 962.3,527.2 963.1,525.1 963.9,521.1 964.7,513.7 965.5,513.2 966.3,519.6 967.1,524.8 967.8,527.2 968.6,527.2 969.4,527.2 970.2,520.4 971.0,518.2 971.8,514.4 972.6,514.3" fill="none" stroke="#1f77b4" stroke-width="2.15" stroke-linejoin="round" stroke-linecap="butt" clip-path="url(#c3)"/>
<polyline points="180.7,520.1 181.5,522.5 182.3,522.1 183.1,521.2 183.9,517.3 184.7,516.4 185.5,519.2 186.3,527.2 187.1,525.6 187.9,525.2 188.7,522.9 189.4,520.9 190.2,522.3 191.0,522.9 191.8,524.3 192.6,525.2 193.4,526.5 194.2,525.0 195.0,523.3 195.8,520.2 196.6,516.9 197.4,518.2 198.2,518.3 199.0,519.1 199.7,520.4 200.5,521.1 201.3,523.6 202.1,527.2 202.9,527.2 203.7,526.4 204.5,524.0 205.3,521.0 206.1,516.7 206.9,513.3 207.7,504.7 208.5,497.2 209.2,496.6 210.0,500.2 210.8,506.3 211.6,516.7 212.4,526.4 213.2,524.9 214.0,519.0 214.8,513.2 215.6,514.8 216.4,518.6 217.2,527.2 218.0,527.2 218.7,527.2 219.5,527.2 220.3,525.2 221.1,522.1 221.9,521.7 222.7,525.1 223.5,522.1 224.3,520.1 225.1,520.9 225.9,519.7 226.7,521.5 227.5,523.5 228.3,520.8 229.0,518.1 229.8,515.3 230.6,512.1 231.4,508.1 232.2,505.1 233.0,501.2 233.8,506.3 234.6,514.2 235.4,511.4 236.2,507.4 237.0,504.8 237.8,500.0 238.5,497.0 239.3,494.2 240.1,498.6 240.9,501.0 241.7,505.0 242.5,506.5 243.3,505.9 244.1,500.5 244.9,500.8 245.7,493.4 246.5,490.2 247.3,486.0 248.0,486.6 248.8,486.5 249.6,482.5 250.4,480.7 251.2,477.2 252.0,476.6 252.8,472.6 253.6,469.6 254.4,471.5 255.2,469.8 256.0,466.2 256.8,465.7 257.5,468.8 258.3,468.9 259.1,469.8 259.9,474.4 260.7,479.4 261.5,483.0 262.3,487.8 263.1,488.9 263.9,490.7 264.7,492.2 265.5,493.9 266.3,495.6 267.1,495.9 267.8,500.2 268.6,496.8 269.4,494.3 270.2,490.2 271.0,494.4 271.8,496.8 272.6,497.8 273.4,503.0 274.2,505.5 275.0,503.7 275.8,502.0 276.6,498.4 277.3,492.1 278.1,489.3 278.9,483.7 279.7,480.7 280.5,476.0 281.3,483.5 282.1,490.2 282.9,496.8 283.7,498.8 284.5,497.5 285.3,496.3 286.1,491.6 286.8,491.2 287.6,493.5 288.4,502.0 289.2,501.0 290.0,499.7 290.8,498.1 291.6,498.7 292.4,497.8 293.2,498.9 294.0,498.0 294.8,497.1 295.6,499.6 296.4,494.5 297.1,489.4 297.9,486.9 298.7,494.0 299.5,509.2 300.3,509.7 301.1,512.1 301.9,515.1 302.7,517.4 303.5,519.4 304.3,519.1 305.1,516.6 305.9,510.6 306.6,511.3 307.4,515.0 308.2,514.2 309.0,509.0 309.8,499.1 310.6,496.7 311.4,490.1 312.2,486.4 313.0,481.4 313.8,473.9 314.6,473.1 315.4,476.2 316.1,478.1 316.9,482.2 317.7,490.5 318.5,496.8 319.3,497.5 320.1,496.0 320.9,489.8 321.7,486.8 322.5,489.1 323.3,493.6 324.1,498.5 324.9,496.0 325.6,497.4 326.4,496.4 327.2,491.5 328.0,489.1 328.8,486.6 329.6,480.8 330.4,472.0 331.2,463.0 332.0,453.2 332.8,446.4 333.6,446.4 334.4,446.4 335.2,446.9 335.9,448.6 336.7,451.3 337.5,450.4 338.3,452.9 339.1,453.8 339.9,453.3 340.7,454.6 341.5,455.7 342.3,459.0 343.1,469.8 343.9,477.8 344.7,480.9 345.4,482.4 346.2,483.8 347.0,488.4 347.8,489.4 348.6,491.6 349.4,497.1 350.2,498.6 351.0,501.5 351.8,501.9 352.6,504.4 353.4,504.9 354.2,506.1 354.9,503.9 355.7,500.5 356.5,496.0 357.3,488.4 358.1,487.5 358.9,486.0 359.7,483.7 360.5,484.3 361.3,480.4 362.1,478.5 362.9,473.5 363.7,469.9 364.5,469.7 365.2,472.3 366.0,475.2 366.8,480.2 367.6,481.3 368.4,482.6 369.2,481.7 370.0,481.9 370.8,476.7 371.6,471.9 372.4,470.1 373.2,466.8 374.0,469.1 374.7,469.1 375.5,459.7 376.3,450.5 377.1,453.6 377.9,453.3 378.7,453.6 379.5,454.1 380.3,455.3 381.1,453.7 381.9,450.6 382.7,451.8 383.5,449.1 384.2,449.6 385.0,448.7 385.8,449.5 386.6,450.8 387.4,454.1 388.2,449.9 389.0,450.3 389.8,449.6 390.6,453.3 391.4,453.0 392.2,450.5 393.0,448.2 393.7,447.3 394.5,452.5 395.3,454.5 396.1,452.9 396.9,454.1 397.7,453.4 398.5,452.4 399.3,448.4 400.1,446.4 400.9,446.4 401.7,449.6 402.5,453.8 403.3,454.4 404.0,454.2 404.8,451.7 405.6,452.5 406.4,454.9 407.2,459.1 408.0,468.0 408.8,472.4 409.6,476.5 410.4,477.9 411.2,481.9 412.0,484.3 412.8,486.1 413.5,490.9 414.3,492.4 415.1,496.6 415.9,499.3 416.7,496.7 417.5,496.6 418.3,496.7 419.1,496.2 419.9,494.5 420.7,496.0 421.5,495.4 422.3,497.0 423.0,497.7 423.8,499.5 424.6,503.9 425.4,506.9 426.2,504.8 427.0,506.2 427.8,506.0 428.6,502.3 429.4,499.1 430.2,493.0 431.0,490.2 431.8,492.1 432.6,492.5 433.3,492.3 434.1,489.8 434.9,487.4 435.7,485.8 436.5,489.0 437.3,485.2 438.1,485.7 438.9,488.9 439.7,491.1 440.5,497.2 441.3,506.3 442.1,510.7 442.8,517.0 443.6,525.8 444.4,525.1 445.2,527.2 446.0,526.7 446.8,523.5 447.6,523.0 448.4,527.0 449.2,527.1 450.0,514.2 450.8,509.1 451.6,506.0 452.3,515.6 453.1,519.2 453.9,526.7 454.7,527.2 455.5,527.2 456.3,527.2 457.1,527.2 457.9,526.9 458.7,527.2 459.5,526.2 460.3,527.2 461.1,527.2 461.8,526.9 462.6,527.2 463.4,527.2 464.2,527.2 465.0,527.2 465.8,525.2 466.6,526.2 467.4,526.7 468.2,526.9 469.0,526.9 469.8,526.7 470.6,525.4 471.4,524.4 472.1,523.2 472.9,522.6 473.7,523.4 474.5,525.7 475.3,527.2 476.1,527.2 476.9,526.6 477.7,526.2 478.5,523.6 479.3,523.2 480.1,520.4 480.9,517.1 481.6,515.7 482.4,514.3 483.2,515.4 484.0,514.9 484.8,510.9 485.6,509.6 486.4,505.5 487.2,506.5 488.0,509.1 488.8,511.5 489.6,513.7 490.4,514.8 491.1,515.0 491.9,514.1 492.7,513.3 493.5,515.0 494.3,516.2 495.1,517.6 495.9,519.2 496.7,519.9 497.5,519.0 498.3,519.5 499.1,517.6 499.9,516.7 500.7,514.4 501.4,511.7 502.2,509.4 503.0,508.1 503.8,504.6 504.6,499.3 505.4,495.4 506.2,495.1 507.0,493.9 507.8,494.6 508.6,496.4 509.4,497.2 510.2,500.5 510.9,502.1 511.7,502.2 512.5,508.2 513.3,506.8 514.1,505.4 514.9,498.5 515.7,493.8 516.5,489.8 517.3,499.2 518.1,504.6 518.9,506.3 519.7,503.7 520.4,499.1 521.2,488.5 522.0,481.7 522.8,481.8 523.6,484.7 524.4,487.1 525.2,490.4 526.0,493.3 526.8,499.8 527.6,501.6 528.4,502.4 529.2,503.6 529.9,502.2 530.7,500.2 531.5,499.7 532.3,497.7 533.1,497.8 533.9,497.6 534.7,496.7 535.5,492.4 536.3,487.1 537.1,487.2 537.9,485.0 538.7,480.3 539.5,478.4 540.2,484.7 541.0,485.5 541.8,483.1 542.6,479.2 543.4,477.4 544.2,475.0 545.0,467.9 545.8,472.1 546.6,478.2 547.4,485.5 548.2,494.2 549.0,495.2 549.7,494.2 550.5,492.6 551.3,493.4 552.1,490.9 552.9,488.2 553.7,486.6 554.5,477.6 555.3,465.1 556.1,459.2 556.9,452.3 557.7,450.0 558.5,449.4 559.2,451.8 560.0,451.2 560.8,454.4 561.6,455.5 562.4,458.9 563.2,460.6 564.0,455.7 564.8,455.6 565.6,463.6 566.4,466.7 567.2,471.4 568.0,474.1 568.8,468.0 569.5,456.5 570.3,453.6 571.1,460.1 571.9,463.6 572.7,467.8 573.5,468.0 574.3,468.8 575.1,469.7 575.9,463.9 576.7,457.7 577.5,447.1 578.3,451.8 579.0,464.7 579.8,474.4 580.6,471.8 581.4,461.6 582.2,452.5 583.0,449.3 583.8,451.8 584.6,450.6 585.4,448.7 586.2,447.9 587.0,448.5 587.8,447.1 588.5,446.4 589.3,446.4 590.1,446.4 590.9,446.4 591.7,446.4 592.5,446.4 593.3,446.7 594.1,446.4 594.9,448.4 595.7,448.3 596.5,448.4 597.3,446.4 598.0,446.4 598.8,446.4 599.6,446.4 600.4,446.4 601.2,446.7 602.0,448.5 602.8,450.4 603.6,452.2 604.4,453.6 605.2,453.0 606.0,446.4 606.8,446.4 607.6,448.8 608.3,454.4 609.1,453.6 609.9,452.7 610.7,452.4 611.5,452.0 612.3,448.4 613.1,446.4 613.9,446.4 614.7,446.4 615.5,448.3 616.3,448.2 617.1,453.1 617.8,454.2 618.6,449.8 619.4,446.4 620.2,446.4 621.0,450.2 621.8,450.6 622.6,453.6 623.4,456.9 624.2,458.6 625.0,460.8 625.8,464.8 626.6,467.2 627.3,471.9 628.1,478.6 628.9,481.1 629.7,482.1 630.5,488.6 631.3,490.3 632.1,489.1 632.9,485.4 633.7,478.2 634.5,472.6 635.3,469.6 636.1,470.6 636.9,472.1 637.6,475.1 638.4,475.5 639.2,481.7 640.0,482.2 640.8,488.1 641.6,492.5 642.4,495.1 643.2,497.3 644.0,497.7 644.8,499.5 645.6,500.4 646.4,503.6 647.1,507.4 647.9,508.1 648.7,507.1 649.5,506.3 650.3,505.0 651.1,506.2 651.9,504.3 652.7,503.4 653.5,502.0 654.3,501.9 655.1,500.6 655.9,501.6 656.6,500.2 657.4,500.7 658.2,500.4 659.0,495.2 659.8,486.5 660.6,480.0 661.4,474.0 662.2,469.8 663.0,469.4 663.8,471.1 664.6,472.6 665.4,466.4 666.1,463.2 666.9,454.4 667.7,454.5 668.5,452.0 669.3,458.0 670.1,459.3 670.9,464.8 671.7,466.5 672.5,468.6 673.3,468.8 674.1,472.6 674.9,472.6 675.7,479.7 676.4,484.0 677.2,492.3 678.0,497.8 678.8,496.3 679.6,494.1 680.4,490.6 681.2,486.1 682.0,482.2 682.8,481.1 683.6,477.8 684.4,481.2 685.2,478.0 685.9,471.5 686.7,465.3 687.5,457.6 688.3,465.8 689.1,472.8 689.9,473.4 690.7,472.9 691.5,477.1 692.3,481.4 693.1,489.5 693.9,498.7 694.7,505.7 695.4,511.1 696.2,518.5 697.0,521.3 697.8,521.6 698.6,525.0 699.4,522.5 700.2,520.4 701.0,517.8 701.8,516.2 702.6,500.0 703.4,490.3 704.2,474.2 705.0,464.3 705.7,458.6 706.5,470.4 707.3,483.7 708.1,494.8 708.9,500.0 709.7,501.8 710.5,506.0 711.3,505.0 712.1,511.0 712.9,519.7 713.7,527.2 714.5,526.3 715.2,527.2 716.0,526.9 716.8,524.7 717.6,518.9 718.4,513.8 719.2,519.6 720.0,522.4 720.8,526.6 721.6,527.2 722.4,526.5 723.2,527.2 724.0,527.2 724.7,526.3 725.5,523.7 726.3,514.8 727.1,505.5 727.9,492.2 728.7,483.1 729.5,476.3 730.3,473.6 731.1,475.5 731.9,475.5 732.7,477.1 733.5,478.5 734.2,479.8 735.0,479.8 735.8,482.2 736.6,480.2 737.4,479.9 738.2,475.2 739.0,474.4 739.8,474.0 740.6,465.7 741.4,462.3 742.2,475.6 743.0,504.7 743.8,511.8 744.5,513.8 745.3,517.3 746.1,522.0 746.9,526.0 747.7,527.2 748.5,525.8 749.3,517.6 750.1,510.4 750.9,503.0 751.7,501.4 752.5,498.9 753.3,494.0 754.0,488.7 754.8,498.5 755.6,515.3 756.4,515.5 757.2,518.3 758.0,520.0 758.8,519.0 759.6,517.9 760.4,520.1 761.2,518.9 762.0,519.2 762.8,519.1 763.5,516.8 764.3,517.7 765.1,518.2 765.9,517.7 766.7,527.2 767.5,527.2 768.3,523.7 769.1,519.3 769.9,507.3 770.7,508.4 771.5,506.5 772.3,504.7 773.1,493.0 773.8,488.1 774.6,493.2 775.4,494.4 776.2,495.5 777.0,490.9 777.8,490.2 778.6,485.6 779.4,483.4 780.2,479.2 781.0,473.1 781.8,470.4 782.6,467.3 783.3,463.4 784.1,472.9 784.9,482.8 785.7,497.1 786.5,497.3 787.3,494.8 788.1,486.9 788.9,485.3 789.7,488.3 790.5,493.1 791.3,499.4 792.1,494.5 792.8,491.4 793.6,481.0 794.4,477.0 795.2,469.7 796.0,463.2 796.8,461.1 797.6,452.6 798.4,451.1 799.2,449.6 800.0,456.6 800.8,464.8 801.6,471.7 802.3,480.6 803.1,484.3 803.9,487.0 804.7,492.5 805.5,497.7 806.3,501.3 807.1,498.7 807.9,495.7 808.7,491.9 809.5,493.5 810.3,495.7 811.1,499.9 811.9,503.3 812.6,503.4 813.4,503.2 814.2,495.9 815.0,491.3 815.8,481.6 816.6,478.0 817.4,471.4 818.2,469.3 819.0,464.8 819.8,457.9 820.6,455.3 821.4,455.2 822.1,452.9 822.9,452.9 823.7,453.1 824.5,454.0 825.3,453.8 826.1,453.9 826.9,455.9 827.7,451.4 828.5,450.2 829.3,449.6 830.1,454.0 830.9,446.5 831.6,446.4 832.4,447.5 833.2,452.2 834.0,456.5 834.8,459.1 835.6,456.4 836.4,455.2 837.2,466.4 838.0,472.6 838.8,475.5 839.6,472.9 840.4,473.9 841.2,476.9 841.9,476.2 842.7,475.4 843.5,478.7 844.3,479.2 845.1,481.7 845.9,483.1 846.7,488.3 847.5,491.0 848.3,495.6 849.1,494.6 849.9,487.5 850.7,484.6 851.4,490.1 852.2,494.9 853.0,498.5 853.8,500.9 854.6,501.5 855.4,500.2 856.2,500.5 857.0,502.9 857.8,503.4 858.6,505.2 859.4,505.0 860.2,506.3 860.9,510.3 861.7,508.6 862.5,508.4 863.3,506.2 864.1,505.9 864.9,507.8 865.7,509.9 866.5,508.3 867.3,507.7 868.1,510.1 868.9,510.1 869.7,512.6 870.4,517.1 871.2,514.0 872.0,514.4 872.8,508.2 873.6,507.9 874.4,505.6 875.2,505.7 876.0,504.8 876.8,507.8 877.6,507.1 878.4,509.2 879.2,508.9 880.0,507.9 880.7,505.6 881.5,505.0 882.3,503.3 883.1,502.6 883.9,496.4 884.7,495.9 885.5,498.7 886.3,499.5 887.1,498.0 887.9,494.4 888.7,492.4 889.5,492.0 890.2,492.3 891.0,492.2 891.8,490.9 892.6,491.2 893.4,492.6 894.2,491.2 895.0,489.4 895.8,489.0 896.6,490.2 897.4,490.4 898.2,490.7 899.0,490.7 899.7,492.0 900.5,495.1 901.3,494.9 902.1,503.3 902.9,501.7 903.7,502.9 904.5,506.0 905.3,504.9 906.1,504.0 906.9,507.5 907.7,509.3 908.5,508.9 909.3,508.9 910.0,512.4 910.8,511.4 911.6,518.0 912.4,514.5 913.2,517.9 914.0,521.9 914.8,526.1 915.6,525.8 916.4,527.2 917.2,527.2 918.0,527.2 918.8,525.6 919.5,527.2 920.3,523.6 921.1,522.1 921.9,523.7 922.7,522.2 923.5,524.8 924.3,527.2 925.1,526.4 925.9,525.2 926.7,527.2 927.5,527.2 928.3,521.0 929.0,521.7 929.8,518.9 930.6,510.2 931.4,503.6 932.2,498.9 933.0,494.0 933.8,491.9 934.6,492.9 935.4,500.0 936.2,501.2 937.0,502.4 937.8,503.8 938.5,505.8 939.3,507.3 940.1,510.6 940.9,511.3 941.7,510.4 942.5,512.2 943.3,513.2 944.1,512.4 944.9,508.7 945.7,504.9 946.5,505.0 947.3,500.1 948.1,500.5 948.8,497.3 949.6,494.6 950.4,496.6 951.2,494.8 952.0,490.8 952.8,489.0 953.6,492.3 954.4,485.1 955.2,479.0 956.0,472.6 956.8,464.1 957.6,463.1 958.3,465.0 959.1,467.2 959.9,446.5 960.7,446.4 961.5,446.4 962.3,446.4 963.1,446.8 963.9,451.0 964.7,456.1 965.5,458.1 966.3,452.5 967.1,448.4 967.8,446.4 968.6,446.4 969.4,446.4 970.2,453.1 971.0,455.2 971.8,458.4 972.6,455.8" fill="none" stroke="#ff7f0e" stroke-width="2.15" stroke-linejoin="round" stroke-linecap="butt" clip-path="url(#c3)"/>
<polyline points="180.7,474.4 181.5,482.8 182.3,476.9 183.1,483.4 183.9,480.7 184.7,482.0 185.5,489.8 186.3,484.6 187.1,481.9 187.9,479.5 188.7,484.8 189.4,486.6 190.2,491.3 191.0,479.9 191.8,475.5 192.6,477.1 193.4,478.5 194.2,484.1 195.0,478.8 195.8,474.9 196.6,477.2 197.4,472.1 198.2,472.9 199.0,479.4 199.7,473.7 200.5,484.2 201.3,484.5 202.1,482.8 202.9,480.7 203.7,482.3 204.5,483.9 205.3,490.0 206.1,494.0 206.9,490.6 207.7,491.2 208.5,491.2 209.2,488.9 210.0,485.5 210.8,490.3 211.6,488.5 212.4,489.9 213.2,486.7 214.0,489.1 214.8,480.8 215.6,488.9 216.4,481.8 217.2,472.6 218.0,474.5 218.7,472.7 219.5,463.5 220.3,473.3 221.1,480.3 221.9,485.1 222.7,482.1 223.5,480.1 224.3,483.9 225.1,480.4 225.9,476.0 226.7,477.9 227.5,484.3 228.3,469.8 229.0,472.7 229.8,485.9 230.6,482.0 231.4,479.7 232.2,484.1 233.0,491.0 233.8,482.8 234.6,478.2 235.4,474.5 236.2,491.3 237.0,471.5 237.8,490.8 238.5,484.2 239.3,485.7 240.1,489.5 240.9,495.8 241.7,504.3 242.5,493.1 243.3,491.0 244.1,491.0 244.9,460.2 245.7,485.6 246.5,496.7 247.3,508.3 248.0,489.7 248.8,482.5 249.6,478.7 250.4,481.7 251.2,502.8 252.0,514.2 252.8,527.2 253.6,527.2 254.4,527.2 255.2,527.2 256.0,527.2 256.8,527.2 257.5,521.9 258.3,523.8 259.1,525.5 259.9,516.3 260.7,516.7 261.5,507.2 262.3,495.3 263.1,496.9 263.9,490.4 264.7,489.9 265.5,481.9 266.3,473.7 267.1,477.3 267.8,470.7 268.6,478.5 269.4,487.4 270.2,492.2 271.0,481.4 271.8,475.9 272.6,478.9 273.4,479.8 274.2,479.1 275.0,489.5 275.8,493.3 276.6,499.8 277.3,498.3 278.1,502.7 278.9,508.9 279.7,502.9 280.5,501.4 281.3,482.2 282.1,468.8 282.9,461.0 283.7,468.9 284.5,469.3 285.3,465.6 286.1,468.5 286.8,463.9 287.6,461.6 288.4,456.2 289.2,455.1 290.0,459.5 290.8,464.9 291.6,457.6 292.4,464.8 293.2,453.9 294.0,459.5 294.8,465.9 295.6,449.5 296.4,452.7 297.1,460.6 297.9,457.0 298.7,458.1 299.5,457.6 300.3,463.5 301.1,462.2 301.9,459.8 302.7,459.6 303.5,455.6 304.3,457.9 305.1,450.4 305.9,459.6 306.6,456.7 307.4,463.3 308.2,473.0 309.0,478.8 309.8,497.8 310.6,504.2 311.4,515.6 312.2,521.2 313.0,521.9 313.8,518.4 314.6,512.9 315.4,507.0 316.1,509.0 316.9,513.8 317.7,511.9 318.5,505.4 319.3,503.6 320.1,499.1 320.9,494.2 321.7,499.6 322.5,501.9 323.3,496.8 324.1,493.5 324.9,493.4 325.6,495.5 326.4,495.5 327.2,497.4 328.0,495.7 328.8,501.0 329.6,502.2 330.4,511.4 331.2,510.9 332.0,518.9 332.8,512.3 333.6,512.6 334.4,507.8 335.2,510.3 335.9,505.2 336.7,497.4 337.5,507.5 338.3,498.4 339.1,495.0 339.9,497.1 340.7,494.2 341.5,493.5 342.3,502.1 343.1,498.5 343.9,497.0 344.7,490.7 345.4,484.9 346.2,477.7 347.0,471.1 347.8,465.5 348.6,468.7 349.4,454.9 350.2,454.8 351.0,453.3 351.8,457.8 352.6,459.7 353.4,460.2 354.2,462.5 354.9,471.1 355.7,465.2 356.5,460.1 357.3,477.3 358.1,470.1 358.9,474.2 359.7,478.6 360.5,476.6 361.3,490.3 362.1,491.6 362.9,493.1 363.7,502.6 364.5,505.2 365.2,505.3 366.0,509.0 366.8,500.3 367.6,505.4 368.4,495.4 369.2,496.5 370.0,486.8 370.8,494.9 371.6,508.6 372.4,503.5 373.2,509.8 374.0,510.6 374.7,507.0 375.5,518.6 376.3,522.1 377.1,517.8 377.9,525.9 378.7,522.7 379.5,526.7 380.3,527.2 381.1,524.7 381.9,520.7 382.7,521.6 383.5,524.5 384.2,524.3 385.0,524.6 385.8,525.5 386.6,517.2 387.4,522.6 388.2,525.6 389.0,522.8 389.8,518.3 390.6,517.7 391.4,519.3 392.2,520.2 393.0,519.4 393.7,526.0 394.5,526.2 395.3,521.0 396.1,525.8 396.9,522.6 397.7,519.4 398.5,520.7 399.3,522.1 400.1,516.9 400.9,523.9 401.7,527.2 402.5,526.0 403.3,524.2 404.0,525.3 404.8,519.9 405.6,517.6 406.4,516.0 407.2,503.6 408.0,496.9 408.8,492.2 409.6,492.3 410.4,484.9 411.2,480.5 412.0,476.5 412.8,476.8 413.5,467.9 414.3,471.7 415.1,468.7 415.9,464.1 416.7,470.1 417.5,471.3 418.3,468.3 419.1,473.8 419.9,475.3 420.7,475.5 421.5,474.8 422.3,486.5 423.0,479.1 423.8,476.1 424.6,472.8 425.4,471.6 426.2,475.7 427.0,476.3 427.8,484.1 428.6,482.4 429.4,486.3 430.2,493.2 431.0,492.3 431.8,489.3 432.6,495.5 433.3,500.5 434.1,500.6 434.9,505.2 435.7,502.4 436.5,500.5 437.3,505.9 438.1,503.9 438.9,496.9 439.7,499.3 440.5,492.4 441.3,490.6 442.1,484.2 442.8,477.5 443.6,463.2 444.4,470.9 445.2,471.3 446.0,474.7 446.8,479.1 447.6,482.2 448.4,489.4 449.2,489.2 450.0,498.3 450.8,497.3 451.6,496.4 452.3,483.9 453.1,479.8 453.9,468.7 454.7,461.7 455.5,462.3 456.3,469.8 457.1,461.7 457.9,467.2 458.7,468.5 459.5,469.0 460.3,470.1 461.1,466.9 461.8,470.3 462.6,467.3 463.4,462.0 464.2,462.5 465.0,464.1 465.8,464.7 466.6,465.6 467.4,463.5 468.2,460.4 469.0,468.2 469.8,460.7 470.6,462.1 471.4,465.5 472.1,460.8 472.9,468.5 473.7,471.3 474.5,468.5 475.3,466.0 476.1,461.3 476.9,457.8 477.7,451.5 478.5,458.0 479.3,451.1 480.1,455.8 480.9,455.3 481.6,456.7 482.4,460.0 483.2,460.8 484.0,459.4 484.8,456.1 485.6,455.2 486.4,456.6 487.2,463.7 488.0,462.4 488.8,461.5 489.6,455.1 490.4,462.9 491.1,449.1 491.9,453.6 492.7,453.0 493.5,449.4 494.3,448.7 495.1,453.0 495.9,452.4 496.7,459.3 497.5,458.8 498.3,462.3 499.1,470.0 499.9,466.5 500.7,473.4 501.4,475.9 502.2,481.9 503.0,481.7 503.8,480.0 504.6,491.2 505.4,488.4 506.2,494.0 507.0,498.0 507.8,500.5 508.6,486.1 509.4,476.7 510.2,476.4 510.9,468.9 511.7,473.5 512.5,458.1 513.3,473.0 514.1,477.3 514.9,497.3 515.7,497.9 516.5,504.9 517.3,491.1 518.1,487.5 518.9,490.4 519.7,484.3 520.4,500.0 521.2,500.0 522.0,494.0 522.8,492.4 523.6,479.8 524.4,473.4 525.2,478.5 526.0,478.2 526.8,465.9 527.6,472.0 528.4,471.6 529.2,465.5 529.9,472.4 530.7,463.2 531.5,465.5 532.3,461.9 533.1,450.1 533.9,465.5 534.7,457.6 535.5,472.5 536.3,473.1 537.1,462.7 537.9,454.5 538.7,463.1 539.5,474.8 540.2,469.8 541.0,466.3 541.8,474.0 542.6,473.6 543.4,462.7 544.2,466.7 545.0,473.0 545.8,469.3 546.6,471.7 547.4,468.2 548.2,471.0 549.0,467.5 549.7,472.5 550.5,487.1 551.3,480.1 552.1,481.0 552.9,488.2 553.7,490.1 554.5,503.1 555.3,511.9 556.1,509.9 556.9,527.2 557.7,527.2 558.5,510.0 559.2,516.4 560.0,511.7 560.8,514.0 561.6,510.8 562.4,508.3 563.2,505.6 564.0,503.3 564.8,517.2 565.6,499.9 566.4,505.1 567.2,500.5 568.0,489.8 568.8,496.2 569.5,506.1 570.3,492.8 571.1,506.5 571.9,501.3 572.7,501.5 573.5,495.2 574.3,501.2 575.1,491.4 575.9,496.8 576.7,491.0 577.5,506.0 578.3,508.2 579.0,497.4 579.8,505.0 580.6,506.0 581.4,496.8 582.2,507.1 583.0,514.0 583.8,507.9 584.6,518.2 585.4,507.2 586.2,506.8 587.0,515.3 587.8,515.5 588.5,511.7 589.3,512.5 590.1,517.2 590.9,509.8 591.7,522.3 592.5,514.6 593.3,514.5 594.1,511.8 594.9,503.3 595.7,504.9 596.5,490.5 597.3,488.5 598.0,485.0 598.8,482.7 599.6,476.9 600.4,466.7 601.2,470.1 602.0,462.4 602.8,459.0 603.6,465.1 604.4,468.4 605.2,483.2 606.0,491.6 606.8,485.6 607.6,484.1 608.3,474.1 609.1,473.7 609.9,464.2 610.7,465.9 611.5,466.5 612.3,467.6 613.1,466.6 613.9,465.6 614.7,463.9 615.5,459.5 616.3,468.7 617.1,459.4 617.8,469.9 618.6,462.3 619.4,464.7 620.2,462.5 621.0,449.4 621.8,462.3 622.6,468.3 623.4,466.7 624.2,468.7 625.0,461.1 625.8,475.6 626.6,474.1 627.3,477.8 628.1,465.0 628.9,457.4 629.7,448.0 630.5,457.5 631.3,448.0 632.1,447.1 632.9,453.7 633.7,448.7 634.5,449.9 635.3,462.3 636.1,450.7 636.9,454.0 637.6,462.3 638.4,472.8 639.2,464.7 640.0,476.8 640.8,477.5 641.6,479.1 642.4,492.3 643.2,489.3 644.0,498.1 644.8,499.1 645.6,501.0 646.4,502.4 647.1,498.6 647.9,504.5 648.7,504.1 649.5,502.9 650.3,498.0 651.1,502.4 651.9,498.6 652.7,494.6 653.5,495.6 654.3,492.6 655.1,494.3 655.9,481.9 656.6,487.9 657.4,495.3 658.2,500.9 659.0,493.6 659.8,507.2 660.6,513.5 661.4,515.0 662.2,516.8 663.0,513.1 663.8,522.1 664.6,510.9 665.4,524.7 666.1,515.5 666.9,522.7 667.7,506.7 668.5,515.7 669.3,512.5 670.1,508.0 670.9,507.5 671.7,520.6 672.5,517.5 673.3,521.6 674.1,512.6 674.9,512.6 675.7,511.4 676.4,510.1 677.2,505.6 678.0,505.6 678.8,503.4 679.6,502.6 680.4,524.2 681.2,520.1 682.0,523.5 682.8,520.6 683.6,527.2 684.4,523.1 685.2,527.2 685.9,518.5 686.7,520.4 687.5,519.9 688.3,515.5 689.1,516.7 689.9,520.2 690.7,506.4 691.5,505.0 692.3,505.2 693.1,498.3 693.9,495.9 694.7,506.3 695.4,505.7 696.2,494.9 697.0,496.5 697.8,508.2 698.6,510.7 699.4,507.1 700.2,505.5 701.0,510.0 701.8,501.0 702.6,507.8 703.4,508.4 704.2,498.6 705.0,507.5 705.7,505.4 706.5,502.8 707.3,502.7 708.1,509.4 708.9,508.4 709.7,513.2 710.5,499.4 711.3,504.0 712.1,511.9 712.9,505.5 713.7,501.5 714.5,502.7 715.2,495.9 716.0,498.2 716.8,507.8 717.6,504.8 718.4,509.8 719.2,501.3 720.0,500.8 720.8,487.4 721.6,501.4 722.4,513.2 723.2,507.0 724.0,504.0 724.7,511.3 725.5,509.4 726.3,506.9 727.1,503.4 727.9,497.5 728.7,492.1 729.5,481.0 730.3,489.4 731.1,491.0 731.9,497.1 732.7,494.2 733.5,487.0 734.2,498.3 735.0,485.8 735.8,472.8 736.6,473.1 737.4,481.8 738.2,500.3 739.0,488.5 739.8,487.8 740.6,490.3 741.4,498.5 742.2,493.1 743.0,481.2 743.8,475.7 744.5,480.5 745.3,473.4 746.1,480.2 746.9,476.6 747.7,476.6 748.5,475.4 749.3,486.0 750.1,474.6 750.9,472.5 751.7,484.0 752.5,484.1 753.3,474.7 754.0,478.8 754.8,487.3 755.6,470.3 756.4,473.6 757.2,476.0 758.0,461.5 758.8,469.0 759.6,468.3 760.4,452.2 761.2,453.1 762.0,449.6 762.8,446.4 763.5,452.1 764.3,451.5 765.1,446.4 765.9,446.9 766.7,448.4 767.5,454.3 768.3,459.0 769.1,458.1 769.9,468.3 770.7,460.8 771.5,478.0 772.3,476.7 773.1,485.1 773.8,482.0 774.6,479.8 775.4,477.2 776.2,490.8 777.0,489.3 777.8,493.2 778.6,497.8 779.4,504.1 780.2,501.4 781.0,512.9 781.8,503.2 782.6,503.6 783.3,507.2 784.1,509.1 784.9,511.1 785.7,493.8 786.5,510.9 787.3,495.5 788.1,500.6 788.9,505.7 789.7,509.9 790.5,496.3 791.3,490.1 792.1,501.7 792.8,496.9 793.6,492.3 794.4,498.7 795.2,492.4 796.0,508.6 796.8,505.2 797.6,517.3 798.4,501.4 799.2,515.1 800.0,521.6 800.8,509.3 801.6,507.3 802.3,493.9 803.1,503.3 803.9,499.1 804.7,493.9 805.5,486.8 806.3,487.6 807.1,472.2 807.9,465.4 808.7,461.2 809.5,450.1 810.3,454.5 811.1,464.0 811.9,457.5 812.6,478.4 813.4,470.4 814.2,478.8 815.0,492.0 815.8,502.6 816.6,506.4 817.4,509.2 818.2,512.0 819.0,516.7 819.8,514.7 820.6,525.6 821.4,520.4 822.1,527.2 822.9,513.7 823.7,516.3 824.5,518.4 825.3,508.7 826.1,510.3 826.9,527.2 827.7,510.8 828.5,517.9 829.3,503.3 830.1,494.6 830.9,509.9 831.6,506.3 832.4,507.5 833.2,503.8 834.0,501.7 834.8,497.9 835.6,510.2 836.4,496.4 837.2,509.9 838.0,503.4 838.8,498.6 839.6,501.0 840.4,510.0 841.2,508.7 841.9,507.4 842.7,505.2 843.5,498.7 844.3,511.9 845.1,502.4 845.9,501.6 846.7,501.9 847.5,502.4 848.3,496.7 849.1,502.3 849.9,500.8 850.7,503.4 851.4,497.7 852.2,518.7 853.0,502.4 853.8,510.9 854.6,511.0 855.4,514.7 856.2,519.6 857.0,511.3 857.8,512.0 858.6,504.7 859.4,514.3 860.2,497.6 860.9,503.7 861.7,507.0 862.5,509.9 863.3,510.9 864.1,513.2 864.9,510.5 865.7,508.0 866.5,509.5 867.3,516.7 868.1,511.0 868.9,514.8 869.7,509.6 870.4,500.9 871.2,508.1 872.0,513.7 872.8,521.2 873.6,520.6 874.4,522.5 875.2,510.0 876.0,518.5 876.8,514.5 877.6,518.7 878.4,515.4 879.2,508.8 880.0,520.7 880.7,519.5 881.5,522.7 882.3,514.9 883.1,527.1 883.9,527.2 884.7,527.2 885.5,520.2 886.3,504.9 887.1,493.4 887.9,506.0 888.7,495.1 889.5,495.6 890.2,499.0 891.0,493.2 891.8,490.9 892.6,490.8 893.4,477.0 894.2,491.8 895.0,479.3 895.8,477.1 896.6,478.8 897.4,473.2 898.2,468.0 899.0,469.6 899.7,466.8 900.5,464.0 901.3,474.5 902.1,456.0 902.9,449.3 903.7,452.6 904.5,450.9 905.3,460.1 906.1,452.9 906.9,454.4 907.7,452.8 908.5,446.4 909.3,453.7 910.0,448.8 910.8,454.6 911.6,446.4 912.4,446.4 913.2,448.9 914.0,448.9 914.8,446.4 915.6,458.1 916.4,457.5 917.2,454.6 918.0,446.4 918.8,446.4 919.5,451.8 920.3,457.5 921.1,458.6 921.9,455.5 922.7,462.8 923.5,454.6 924.3,454.7 925.1,459.4 925.9,457.3 926.7,456.0 927.5,452.3 928.3,460.4 929.0,451.7 929.8,457.0 930.6,459.6 931.4,457.9 932.2,460.2 933.0,466.7 933.8,473.0 934.6,474.9 935.4,467.7 936.2,461.8 937.0,462.2 937.8,456.2 938.5,460.4 939.3,457.6 940.1,455.1 940.9,457.3 941.7,451.8 942.5,446.4 943.3,448.3 944.1,456.8 944.9,456.1 945.7,461.2 946.5,459.6 947.3,464.8 948.1,467.6 948.8,462.6 949.6,459.6 950.4,458.0 951.2,460.1 952.0,459.3 952.8,462.6 953.6,463.5 954.4,479.7 955.2,486.6 956.0,497.9 956.8,507.2 957.6,517.0 958.3,523.2 959.1,523.8 959.9,527.2 960.7,527.2 961.5,522.1 962.3,525.9 963.1,527.2 963.9,523.2 964.7,527.2 965.5,520.0 966.3,521.2 967.1,520.4 967.8,516.6 968.6,515.1 969.4,508.4 970.2,504.4 971.0,503.1 971.8,504.0 972.6,511.9" fill="none" stroke="#2ca02c" stroke-width="2.15" stroke-linejoin="round" stroke-linecap="butt" clip-path="url(#c3)"/>
<line x1="58.0" y1="466.6" x2="972.6" y2="466.6" stroke="#1f77b4" stroke-opacity="0.8" stroke-width="1.5" stroke-dasharray="4.4,2.05"/>
<line x1="58.0" y1="507.0" x2="972.6" y2="507.0" stroke="#1f77b4" stroke-opacity="0.8" stroke-width="1.5" stroke-dasharray="4.4,2.05"/>
<line x1="98.8" y1="567.3" x2="98.8" y2="650.9" stroke="#e4e4e4" stroke-width="0.9"/>
<line x1="140.1" y1="567.3" x2="140.1" y2="650.9" stroke="#e4e4e4" stroke-width="0.9"/>
<line x1="181.4" y1="567.3" x2="181.4" y2="650.9" stroke="#e4e4e4" stroke-width="0.9"/>
<line x1="222.7" y1="567.3" x2="222.7" y2="650.9" stroke="#e4e4e4" stroke-width="0.9"/>
<line x1="264.1" y1="567.3" x2="264.1" y2="650.9" stroke="#e4e4e4" stroke-width="0.9"/>
<line x1="305.4" y1="567.3" x2="305.4" y2="650.9" stroke="#e4e4e4" stroke-width="0.9"/>
<line x1="346.7" y1="567.3" x2="346.7" y2="650.9" stroke="#e4e4e4" stroke-width="0.9"/>
<line x1="388.0" y1="567.3" x2="388.0" y2="650.9" stroke="#e4e4e4" stroke-width="0.9"/>
<line x1="429.4" y1="567.3" x2="429.4" y2="650.9" stroke="#e4e4e4" stroke-width="0.9"/>
<line x1="470.7" y1="567.3" x2="470.7" y2="650.9" stroke="#e4e4e4" stroke-width="0.9"/>
<line x1="512.0" y1="567.3" x2="512.0" y2="650.9" stroke="#e4e4e4" stroke-width="0.9"/>
<line x1="553.3" y1="567.3" x2="553.3" y2="650.9" stroke="#e4e4e4" stroke-width="0.9"/>
<line x1="594.7" y1="567.3" x2="594.7" y2="650.9" stroke="#e4e4e4" stroke-width="0.9"/>
<line x1="635.9" y1="567.3" x2="635.9" y2="650.9" stroke="#e4e4e4" stroke-width="0.9"/>
<line x1="677.2" y1="567.3" x2="677.2" y2="650.9" stroke="#e4e4e4" stroke-width="0.9"/>
<line x1="718.5" y1="567.3" x2="718.5" y2="650.9" stroke="#e4e4e4" stroke-width="0.9"/>
<line x1="759.9" y1="567.3" x2="759.9" y2="650.9" stroke="#e4e4e4" stroke-width="0.9"/>
<line x1="801.2" y1="567.3" x2="801.2" y2="650.9" stroke="#e4e4e4" stroke-width="0.9"/>
<line x1="842.5" y1="567.3" x2="842.5" y2="650.9" stroke="#e4e4e4" stroke-width="0.9"/>
<line x1="883.8" y1="567.3" x2="883.8" y2="650.9" stroke="#e4e4e4" stroke-width="0.9"/>
<line x1="925.2" y1="567.3" x2="925.2" y2="650.9" stroke="#e4e4e4" stroke-width="0.9"/>
<line x1="966.5" y1="567.3" x2="966.5" y2="650.9" stroke="#e4e4e4" stroke-width="0.9"/>
<line x1="58.0" y1="626.6" x2="972.6" y2="626.6" stroke="#e4e4e4" stroke-width="0.9"/>
<line x1="58.0" y1="594.4" x2="972.6" y2="594.4" stroke="#e4e4e4" stroke-width="0.9"/>
<polyline points="58.0,580.3 58.8,580.9 59.6,579.4 60.4,580.9 61.2,584.2 62.0,583.8 62.8,580.2 63.5,579.4 64.3,578.8 65.1,578.8 65.9,579.0 66.7,577.8 67.5,578.1 68.3,577.4 69.1,577.8 69.9,577.9 70.7,578.3 71.5,578.2 72.3,577.8 73.0,577.6 73.8,577.5 74.6,577.1 75.4,575.6 76.2,576.3 77.0,576.0 77.8,575.5 78.6,576.5 79.4,577.6 80.2,579.3 81.0,579.1 81.8,578.5 82.5,576.4 83.3,575.7 84.1,576.0 84.9,575.7 85.7,574.6 86.5,574.7 87.3,575.0 88.1,575.4 88.9,575.3 89.7,574.2 90.5,574.2 91.3,572.6 92.1,572.2 92.8,571.1 93.6,571.8 94.4,572.3 95.2,572.2 96.0,573.3 96.8,571.8 97.6,571.7 98.4,571.3 99.2,571.7 100.0,572.1 100.8,573.1 101.6,573.6 102.3,573.7 103.1,575.3 103.9,574.5 104.7,574.1 105.5,573.2 106.3,575.8 107.1,578.2 107.9,578.8 108.7,577.9 109.5,577.9 110.3,577.7 111.1,578.1 111.8,578.1 112.6,578.7 113.4,577.9 114.2,577.9 115.0,577.9 115.8,577.8 116.6,578.1 117.4,577.7 118.2,578.5 119.0,578.4 119.8,578.6 120.6,578.9 121.3,577.6 122.1,578.3 122.9,577.3 123.7,577.4 124.5,578.4 125.3,578.1 126.1,577.9 126.9,577.9 127.7,577.9 128.5,576.8 129.3,577.1 130.1,576.6 130.9,576.8 131.6,576.2 132.4,576.5 133.2,576.0 134.0,575.4 134.8,574.9 135.6,574.3 136.4,573.8 137.2,573.6 138.0,574.7 138.8,575.8 139.6,575.5 140.4,574.3 141.1,572.9 141.9,574.3 142.7,574.2 143.5,574.5 144.3,576.1 145.1,575.1 145.9,575.8 146.7,575.0 147.5,575.7 148.3,575.7 149.1,575.2 149.9,574.9 150.6,575.7 151.4,576.0 152.2,577.2 153.0,576.6 153.8,575.9 154.6,575.0 155.4,575.4 156.2,575.3 157.0,574.6 157.8,574.4 158.6,574.4 159.4,575.2 160.2,576.3 160.9,576.8 161.7,578.4 162.5,579.9 163.3,579.1 164.1,578.0 164.9,577.4 165.7,575.9 166.5,575.7 167.3,573.9 168.1,573.2 168.9,574.4 169.7,574.0 170.4,574.7 171.2,575.7 172.0,574.6 172.8,574.3 173.6,575.5 174.4,574.0 175.2,573.7 176.0,573.2 176.8,572.6 177.6,573.7 178.4,573.9 179.2,574.2 179.9,574.6 180.7,574.9 181.5,576.0 182.3,576.2 183.1,574.9 183.9,574.7 184.7,573.9 185.5,574.6 186.3,573.6 187.1,573.8 187.9,575.1 188.7,576.9 189.4,579.3 190.2,583.0 191.0,585.1 191.8,586.7 192.6,586.8 193.4,585.0 194.2,581.9 195.0,581.5 195.8,581.2 196.6,580.7 197.4,580.2 198.2,579.9 199.0,580.0 199.7,580.2 200.5,579.5 201.3,579.3 202.1,578.3 202.9,578.5 203.7,579.2 204.5,577.3 205.3,577.6 206.1,579.1 206.9,579.7 207.7,581.1 208.5,580.1 209.2,580.4 210.0,580.8 210.8,579.3 211.6,579.9 212.4,579.0 213.2,580.7 214.0,581.2 214.8,579.3 215.6,578.7 216.4,574.3 217.2,571.2 218.0,570.2 218.7,570.9 219.5,571.9 220.3,572.9 221.1,576.6 221.9,578.6 222.7,581.1 223.5,582.6 224.3,582.3 225.1,581.8 225.9,581.5 226.7,579.7 227.5,579.1 228.3,580.6 229.0,580.4 229.8,583.1 230.6,584.8 231.4,586.1 232.2,590.1 233.0,587.7 233.8,584.3 234.6,580.9 235.4,578.4 236.2,577.5 237.0,577.9 237.8,578.6 238.5,579.8 239.3,580.6 240.1,579.5 240.9,579.6 241.7,578.1 242.5,578.3 243.3,578.5 244.1,580.3 244.9,582.0 245.7,584.3 246.5,582.0 247.3,580.8 248.0,580.2 248.8,578.5 249.6,578.2 250.4,579.5 251.2,580.9 252.0,582.4 252.8,583.2 253.6,584.6 254.4,587.0 255.2,589.4 256.0,592.4 256.8,594.6 257.5,596.2 258.3,588.7 259.1,583.5 259.9,583.2 260.7,583.0 261.5,582.8 262.3,583.4 263.1,582.6 263.9,583.9 264.7,585.3 265.5,584.8 266.3,586.9 267.1,588.8 267.8,589.5 268.6,584.2 269.4,583.3 270.2,584.1 271.0,590.4 271.8,595.1 272.6,597.9 273.4,596.0 274.2,591.1 275.0,587.6 275.8,585.1 276.6,588.9 277.3,592.3 278.1,591.9 278.9,592.5 279.7,592.5 280.5,591.5 281.3,587.5 282.1,581.2 282.9,579.1 283.7,577.8 284.5,580.5 285.3,580.3 286.1,580.1 286.8,579.8 287.6,580.2 288.4,579.2 289.2,578.8 290.0,583.2 290.8,584.8 291.6,585.4 292.4,585.2 293.2,586.4 294.0,588.0 294.8,590.0 295.6,591.1 296.4,592.2 297.1,592.6 297.9,593.2 298.7,590.9 299.5,589.4 300.3,587.9 301.1,585.3 301.9,584.7 302.7,584.5 303.5,583.5 304.3,584.6 305.1,586.2 305.9,587.7 306.6,589.3 307.4,591.7 308.2,596.0 309.0,596.6 309.8,593.0 310.6,590.5 311.4,590.5 312.2,592.0 313.0,592.6 313.8,591.4 314.6,591.6 315.4,591.1 316.1,588.2 316.9,586.1 317.7,582.7 318.5,583.2 319.3,584.1 320.1,586.6 320.9,588.2 321.7,591.1 322.5,591.7 323.3,590.7 324.1,590.6 324.9,590.6 325.6,590.8 326.4,591.6 327.2,592.8 328.0,592.5 328.8,593.8 329.6,593.8 330.4,593.5 331.2,592.4 332.0,591.0 332.8,589.3 333.6,589.5 334.4,587.9 335.2,587.5 335.9,590.0 336.7,590.2 337.5,588.1 338.3,586.5 339.1,585.5 339.9,585.4 340.7,583.0 341.5,582.3 342.3,582.0 343.1,581.8 343.9,582.6 344.7,582.4 345.4,581.7 346.2,583.2 347.0,583.5 347.8,584.8 348.6,585.4 349.4,586.4 350.2,593.4 351.0,588.3 351.8,583.5 352.6,583.3 353.4,584.0 354.2,585.8 354.9,587.4 355.7,588.1 356.5,589.8 357.3,588.9 358.1,586.5 358.9,585.4 359.7,585.7 360.5,587.5 361.3,587.5 362.1,590.0 362.9,592.9 363.7,595.8 364.5,594.2 365.2,592.5 366.0,593.1 366.8,593.5 367.6,594.5 368.4,595.2 369.2,595.2 370.0,597.3 370.8,597.8 371.6,596.8 372.4,595.4 373.2,594.3 374.0,595.4 374.7,594.9 375.5,598.4 376.3,598.6 377.1,601.1 377.9,602.4 378.7,605.7 379.5,606.5 380.3,606.1 381.1,605.8 381.9,606.1 382.7,592.9 383.5,590.9 384.2,591.7 385.0,592.7 385.8,593.8 386.6,596.2 387.4,595.3 388.2,596.6 389.0,596.2 389.8,594.9 390.6,593.9 391.4,593.0 392.2,591.3 393.0,588.2 393.7,585.7 394.5,586.2 395.3,586.0 396.1,588.9 396.9,591.4 397.7,592.2 398.5,593.4 399.3,594.1 400.1,592.1 400.9,592.1 401.7,593.5 402.5,594.6 403.3,594.4 404.0,594.2 404.8,593.8 405.6,593.5 406.4,592.8 407.2,592.2 408.0,591.7 408.8,590.9 409.6,591.1 410.4,591.5 411.2,592.1 412.0,593.7 412.8,595.2 413.5,596.2 414.3,595.3 415.1,594.9 415.9,595.5 416.7,597.8 417.5,600.3 418.3,602.2 419.1,603.6 419.9,605.7 420.7,605.6 421.5,606.3 422.3,607.0 423.0,606.9 423.8,600.5 424.6,599.8 425.4,600.0 426.2,600.2 427.0,600.0 427.8,600.5 428.6,600.9 429.4,601.2 430.2,603.4 431.0,604.7 431.8,605.0 432.6,604.9 433.3,597.8 434.1,594.1 434.9,593.9 435.7,595.0 436.5,592.9 437.3,592.8 438.1,591.7 438.9,592.3 439.7,593.6 440.5,594.8 441.3,595.5 442.1,597.5 442.8,598.8 443.6,598.5 444.4,598.5 445.2,598.5 446.0,599.3 446.8,599.0 447.6,595.5 448.4,593.6 449.2,593.3 450.0,592.1 450.8,592.8 451.6,595.3 452.3,597.2 453.1,597.8 453.9,598.4 454.7,597.1 455.5,596.0 456.3,596.3 457.1,596.5 457.9,597.2 458.7,599.7 459.5,601.3 460.3,603.8 461.1,603.2 461.8,604.1 462.6,602.3 463.4,598.4 464.2,594.2 465.0,591.8 465.8,593.6 466.6,596.2 467.4,598.4 468.2,601.1 469.0,602.9 469.8,604.1 470.6,603.5 471.4,603.2 472.1,604.4 472.9,604.9 473.7,605.9 474.5,599.7 475.3,596.0 476.1,595.7 476.9,596.3 477.7,596.6 478.5,596.4 479.3,597.6 480.1,600.1 480.9,598.2 481.6,595.6 482.4,593.7 483.2,594.3 484.0,593.9 484.8,595.8 485.6,597.6 486.4,598.7 487.2,599.1 488.0,599.2 488.8,598.0 489.6,595.7 490.4,595.7 491.1,595.1 491.9,594.0 492.7,593.8 493.5,594.4 494.3,594.1 495.1,592.6 495.9,589.1 496.7,588.8 497.5,586.5 498.3,589.2 499.1,589.1 499.9,591.4 500.7,593.0 501.4,594.2 502.2,595.6 503.0,597.0 503.8,598.5 504.6,601.1 505.4,600.9 506.2,597.2 507.0,595.3 507.8,598.5 508.6,599.5 509.4,598.1 510.2,597.0 510.9,596.1 511.7,595.2 512.5,595.8 513.3,596.4 514.1,597.5 514.9,601.8 515.7,603.2 516.5,598.2 517.3,598.2 518.1,596.8 518.9,595.7 519.7,596.0 520.4,593.2 521.2,595.9 522.0,594.4 522.8,593.5 523.6,591.8 524.4,591.0 525.2,592.3 526.0,594.5 526.8,595.6 527.6,598.5 528.4,597.8 529.2,594.4 529.9,592.7 530.7,591.1 531.5,591.7 532.3,593.4 533.1,595.4 533.9,598.9 534.7,601.8 535.5,602.7 536.3,601.8 537.1,596.3 537.9,594.3 538.7,596.4 539.5,597.1 540.2,599.1 541.0,599.5 541.8,600.8 542.6,601.1 543.4,602.9 544.2,604.1 545.0,605.4 545.8,605.4 546.6,605.8 547.4,602.1 548.2,599.3 549.0,598.8 549.7,599.1 550.5,598.9 551.3,599.5 552.1,599.2 552.9,601.4 553.7,604.3 554.5,606.2 555.3,607.2 556.1,609.8 556.9,612.3 557.7,609.9 558.5,607.2 559.2,608.1 560.0,610.2 560.8,611.8 561.6,610.0 562.4,610.5 563.2,609.0 564.0,607.9 564.8,606.7 565.6,606.6 566.4,606.4 567.2,607.2 568.0,606.5 568.8,607.5 569.5,607.1 570.3,603.8 571.1,599.5 571.9,598.3 572.7,599.5 573.5,599.4 574.3,599.2 575.1,599.6 575.9,601.8 576.7,604.5 577.5,603.1 578.3,598.4 579.0,596.7 579.8,596.1 580.6,595.9 581.4,596.3 582.2,595.9 583.0,594.4 583.8,595.1 584.6,595.8 585.4,594.5 586.2,594.4 587.0,594.3 587.8,593.7 588.5,594.6 589.3,595.8 590.1,600.7 590.9,598.6 591.7,596.0 592.5,595.5 593.3,597.6 594.1,597.6 594.9,599.0 595.7,600.4 596.5,602.0 597.3,603.8 598.0,602.8 598.8,600.2 599.6,597.2 600.4,595.6 601.2,596.7 602.0,597.7 602.8,597.6 603.6,598.4 604.4,599.7 605.2,600.7 606.0,596.9 606.8,595.0 607.6,595.2 608.3,595.4 609.1,596.0 609.9,596.7 610.7,597.4 611.5,596.0 612.3,594.4 613.1,594.0 613.9,593.4 614.7,596.5 615.5,598.6 616.3,597.7 617.1,598.7 617.8,597.3 618.6,595.7 619.4,594.5 620.2,594.1 621.0,592.8 621.8,595.6 622.6,595.2 623.4,594.9 624.2,595.6 625.0,595.1 625.8,594.0 626.6,592.7 627.3,594.0 628.1,593.4 628.9,592.1 629.7,588.8 630.5,588.2 631.3,588.8 632.1,589.9 632.9,589.7 633.7,590.0 634.5,591.5 635.3,592.8 636.1,593.9 636.9,595.2 637.6,594.8 638.4,596.8 639.2,598.6 640.0,594.9 640.8,592.9 641.6,595.8 642.4,599.5 643.2,603.8 644.0,607.2 644.8,607.6 645.6,607.3 646.4,604.5 647.1,604.8 647.9,606.2 648.7,608.0 649.5,608.3 650.3,608.1 651.1,606.0 651.9,606.9 652.7,605.3 653.5,600.6 654.3,596.2 655.1,596.4 655.9,596.7 656.6,597.2 657.4,598.3 658.2,598.7 659.0,598.3 659.8,597.6 660.6,599.5 661.4,600.0 662.2,597.0 663.0,595.7 663.8,595.8 664.6,595.4 665.4,595.7 666.1,595.7 666.9,597.3 667.7,598.5 668.5,599.0 669.3,598.0 670.1,597.9 670.9,595.1 671.7,592.5 672.5,590.4 673.3,593.1 674.1,596.7 674.9,597.8 675.7,598.0 676.4,597.1 677.2,599.1 678.0,598.3 678.8,600.3 679.6,601.0 680.4,603.7 681.2,601.6 682.0,600.6 682.8,599.3 683.6,599.1 684.4,601.3 685.2,603.1 685.9,602.5 686.7,601.7 687.5,600.5 688.3,599.4 689.1,602.4 689.9,605.0 690.7,603.8 691.5,601.3 692.3,601.7 693.1,602.4 693.9,602.7 694.7,602.1 695.4,601.7 696.2,601.5 697.0,601.3 697.8,599.8 698.6,600.7 699.4,600.9 700.2,600.9 701.0,600.0 701.8,597.0 702.6,598.3 703.4,600.0 704.2,599.9 705.0,599.8 705.7,599.7 706.5,600.7 707.3,605.7 708.1,605.5 708.9,607.5 709.7,607.4 710.5,606.9 711.3,606.8 712.1,604.4 712.9,608.1 713.7,611.4 714.5,614.1 715.2,615.7 716.0,615.2 716.8,615.1 717.6,614.6 718.4,613.9 719.2,614.9 720.0,615.7 720.8,617.0 721.6,618.1 722.4,616.7 723.2,615.9 724.0,616.0 724.7,615.4 725.5,614.1 726.3,613.9 727.1,612.4 727.9,610.8 728.7,608.0 729.5,604.8 730.3,602.2 731.1,602.6 731.9,602.0 732.7,601.7 733.5,602.5 734.2,605.2 735.0,606.8 735.8,607.6 736.6,606.6 737.4,608.1 738.2,608.0 739.0,606.6 739.8,606.0 740.6,606.0 741.4,604.4 742.2,600.7 743.0,596.7 743.8,593.1 744.5,593.5 745.3,594.1 746.1,595.9 746.9,599.3 747.7,599.7 748.5,601.3 749.3,601.9 750.1,604.0 750.9,605.3 751.7,606.4 752.5,607.2 753.3,603.8 754.0,603.2 754.8,609.7 755.6,610.3 756.4,610.4 757.2,610.8 758.0,609.3 758.8,608.2 759.6,607.8 760.4,605.8 761.2,606.4 762.0,606.2 762.8,604.6 763.5,603.1 764.3,603.9 765.1,602.5 765.9,602.3 766.7,601.6 767.5,600.8 768.3,601.2 769.1,600.9 769.9,598.9 770.7,596.1 771.5,600.1 772.3,601.1 773.1,600.1 773.8,603.0 774.6,604.3 775.4,606.1 776.2,607.0 777.0,605.4 777.8,603.2 778.6,603.5 779.4,603.4 780.2,603.1 781.0,603.4 781.8,601.6 782.6,600.5 783.3,600.0 784.1,598.4 784.9,595.0 785.7,594.7 786.5,594.9 787.3,594.9 788.1,595.2 788.9,595.5 789.7,598.1 790.5,601.7 791.3,604.0 792.1,603.4 792.8,602.8 793.6,598.9 794.4,596.1 795.2,596.0 796.0,596.8 796.8,597.2 797.6,597.6 798.4,599.1 799.2,599.9 800.0,599.9 800.8,599.7 801.6,601.4 802.3,603.7 803.1,605.9 803.9,609.8 804.7,610.1 805.5,610.2 806.3,610.1 807.1,608.3 807.9,607.8 808.7,606.0 809.5,604.3 810.3,602.1 811.1,601.5 811.9,601.0 812.6,602.0 813.4,601.9 814.2,603.6 815.0,604.5 815.8,604.3 816.6,605.0 817.4,606.0 818.2,605.5 819.0,604.5 819.8,606.2 820.6,606.2 821.4,603.8 822.1,606.7 822.9,606.9 823.7,607.1 824.5,606.3 825.3,609.3 826.1,607.2 826.9,604.0 827.7,604.8 828.5,605.1 829.3,604.8 830.1,605.6 830.9,606.9 831.6,609.2 832.4,610.0 833.2,610.4 834.0,609.2 834.8,608.7 835.6,607.5 836.4,608.1 837.2,607.6 838.0,607.2 838.8,607.3 839.6,606.3 840.4,606.1 841.2,606.7 841.9,608.4 842.7,608.9 843.5,607.5 844.3,605.6 845.1,606.4 845.9,606.0 846.7,604.9 847.5,606.2 848.3,608.0 849.1,609.4 849.9,610.4 850.7,613.7 851.4,614.8 852.2,616.8 853.0,615.8 853.8,613.1 854.6,611.3 855.4,611.1 856.2,612.2 857.0,612.8 857.8,613.5 858.6,613.3 859.4,612.6 860.2,611.9 860.9,614.0 861.7,615.5 862.5,617.9 863.3,620.7 864.1,621.6 864.9,621.7 865.7,620.8 866.5,619.6 867.3,618.2 868.1,616.7 868.9,615.8 869.7,617.4 870.4,617.3 871.2,619.4 872.0,619.9 872.8,619.7 873.6,621.3 874.4,622.8 875.2,622.8 876.0,626.0 876.8,626.6 877.6,624.5 878.4,623.9 879.2,623.8 880.0,624.4 880.7,624.6 881.5,627.7 882.3,628.9 883.1,629.7 883.9,631.2 884.7,632.0 885.5,631.2 886.3,631.8 887.1,632.4 887.9,633.1 888.7,635.9 889.5,639.0 890.2,640.9 891.0,643.1 891.8,643.7 892.6,644.0 893.4,644.5 894.2,643.1 895.0,642.4 895.8,642.7 896.6,647.5 897.4,645.6 898.2,644.2 899.0,643.7 899.7,642.1 900.5,643.4 901.3,642.6 902.1,635.5 902.9,633.9 903.7,634.1 904.5,633.0 905.3,632.8 906.1,631.4 906.9,627.7 907.7,621.8 908.5,620.6 909.3,619.3 910.0,620.3 910.8,620.5 911.6,621.9 912.4,622.1 913.2,622.1 914.0,621.6 914.8,622.6 915.6,621.1 916.4,619.7 917.2,616.0 918.0,609.7 918.8,600.8 919.5,603.1 920.3,604.3 921.1,608.7 921.9,608.6 922.7,609.3 923.5,610.0 924.3,609.3 925.1,608.9 925.9,609.7 926.7,609.5 927.5,610.1 928.3,609.4 929.0,610.7 929.8,612.9 930.6,613.4 931.4,615.0 932.2,615.0 933.0,613.8 933.8,612.3 934.6,610.9 935.4,611.7 936.2,611.2 937.0,610.4 937.8,610.6 938.5,610.2 939.3,613.1 940.1,613.3 940.9,614.7 941.7,614.4 942.5,611.4 943.3,607.5 944.1,604.9 944.9,607.0 945.7,608.1 946.5,607.6 947.3,608.2 948.1,609.6 948.8,610.9 949.6,608.8 950.4,607.6 951.2,604.8 952.0,602.9 952.8,602.5 953.6,603.5 954.4,603.8 955.2,605.1 956.0,609.4 956.8,612.2 957.6,611.1 958.3,612.1 959.1,612.6 959.9,612.0 960.7,612.7 961.5,613.7 962.3,615.5 963.1,616.4 963.9,614.8 964.7,613.4 965.5,613.4 966.3,613.7 967.1,614.6 967.8,616.4 968.6,619.7 969.4,622.8 970.2,625.1 971.0,627.6 971.8,627.1 972.6,628.5" fill="none" stroke="#1f77b4" stroke-width="2.15" stroke-linejoin="round" stroke-linecap="butt" clip-path="url(#c4)"/>
<rect x="63.8" y="245.4" width="160.3" height="56.7" rx="2.5" fill="#fff" fill-opacity="0.8" stroke="#d0d0d0" stroke-width="1"/>
<line x1="68.2" y1="255.9" x2="93.69999999999999" y2="255.9" stroke="#1f77b4" stroke-width="2.15"/>
<text id="lgA0" x="102.20" y="260.40" class="lg" text-anchor="start" textLength="117.78" lengthAdjust="spacingAndGlyphs">Noncommercial (Net)</text>
<line x1="68.2" y1="274.0" x2="93.69999999999999" y2="274.0" stroke="#ff7f0e" stroke-width="2.15"/>
<text id="lgA1" x="102.20" y="278.50" class="lg" text-anchor="start" textLength="97.69" lengthAdjust="spacingAndGlyphs">Commercial (Net)</text>
<line x1="68.2" y1="292.1" x2="93.69999999999999" y2="292.1" stroke="#2ca02c" stroke-width="2.15"/>
<text id="lgA2" x="102.20" y="296.60" class="lg" text-anchor="start" textLength="110.18" lengthAdjust="spacingAndGlyphs">Nonreportable (Net)</text>
<rect x="63.7" y="451.2" width="128" height="54.6" rx="2.5" fill="#fff" fill-opacity="0.8" stroke="#d0d0d0" stroke-width="1"/>
<line x1="68.10000000000001" y1="461.7" x2="93.6" y2="461.7" stroke="#1f77b4" stroke-width="2.15"/>
<text id="lgB0" x="102.10" y="466.20" class="lg" text-anchor="start" textLength="86.61" lengthAdjust="spacingAndGlyphs">Noncommercial</text>
<line x1="68.10000000000001" y1="478.6" x2="93.6" y2="478.6" stroke="#ff7f0e" stroke-width="2.15"/>
<text id="lgB1" x="102.10" y="483.10" class="lg" text-anchor="start" textLength="66.52" lengthAdjust="spacingAndGlyphs">Commercial</text>
<line x1="68.10000000000001" y1="495.7" x2="93.6" y2="495.7" stroke="#2ca02c" stroke-width="2.15"/>
<text id="lgB2" x="102.10" y="500.20" class="lg" text-anchor="start" textLength="79.01" lengthAdjust="spacingAndGlyphs">Nonreportable</text>
<rect x="64.0" y="573.6" width="153.4" height="21.6" rx="2.5" fill="#fff" fill-opacity="0.8" stroke="#d0d0d0" stroke-width="1"/>
<line x1="68.4" y1="584.6" x2="93.9" y2="584.6" stroke="#1f77b4" stroke-width="2.15"/>
<text id="lgC0" x="102.40" y="589.10" class="lg" text-anchor="start" textLength="111.34" lengthAdjust="spacingAndGlyphs">Open Interest (COT)</text>
<polygon points="472.7,253.3 479.5,253.3 476.1,246.5" fill="#1f77b4" clip-path="url(#c2)"/>
<rect x="478.8" y="234.5" width="14.8" height="12.0" fill="#fff" fill-opacity="0.75"/>
<text id="a36" x="482.00" y="244.20" class="an" text-anchor="start" textLength="11.39" lengthAdjust="spacingAndGlyphs" style="fill:#78acd3">36</text>
<polygon points="70.4,360.2 77.2,360.2 73.8,367.0" fill="#1f77b4" clip-path="url(#c2)"/>
<rect x="76.5" y="367.0" width="18.0" height="12.0" fill="#fff" fill-opacity="0.75"/>
<text id="am20" x="78.80" y="377.20" class="an" text-anchor="start" textLength="14.79" lengthAdjust="spacingAndGlyphs" style="fill:#78acd3">-20</text>
<circle cx="972.6" cy="332.4" r="3.3" fill="none" stroke="#1a5f8f" stroke-width="1.2" clip-path="url(#c2)"/>
<text id="am5" x="980.90" y="326.70" class="an" text-anchor="start" textLength="9.10" lengthAdjust="spacingAndGlyphs" style="fill:#78acd3">-5</text>
<polygon points="183.7,449.8 190.5,449.8 187.1,443.0" fill="#1f77b4" clip-path="url(#c3)"/>
<text id="a100" x="192.30" y="439.80" class="an" text-anchor="start" textLength="36.98" lengthAdjust="spacingAndGlyphs" style="fill:#78acd3">100/100</text>
<polygon points="329.4,523.8 336.2,523.8 332.8,530.6" fill="#1f77b4" clip-path="url(#c3)"/>
<text id="a0" x="337.30" y="542.30" class="an" text-anchor="start" textLength="25.60" lengthAdjust="spacingAndGlyphs" style="fill:#78acd3">0/100</text>
<circle cx="972.6" cy="514.3" r="3.3" fill="none" stroke="#1a5f8f" stroke-width="1.2" clip-path="url(#c3)"/>
<text id="a16" x="981.00" y="508.00" class="an" text-anchor="start" textLength="31.30" lengthAdjust="spacingAndGlyphs" style="fill:#78acd3">16/100</text>
<polygon points="214.6,573.6 221.4,573.6 218.0,566.9" fill="#333" clip-path="url(#c4)"/>
<rect x="220.6" y="554.5" width="13.3" height="12.0" fill="#fff" fill-opacity="0.75"/>
<text id="a95" x="222.60" y="564.70" class="an" text-anchor="start" textLength="11.39" lengthAdjust="spacingAndGlyphs" style="fill:#8c8c8c">95</text>
<polygon points="893.2,644.1 900.0,644.1 896.6,650.9" fill="#333" clip-path="url(#c4)"/>
<text id="a47" x="902.00" y="661.60" class="an" text-anchor="start" textLength="11.39" lengthAdjust="spacingAndGlyphs" style="fill:#8c8c8c">47</text>
<circle cx="972.6" cy="628.5" r="3.3" fill="none" stroke="#333" stroke-width="1.2" clip-path="url(#c4)"/>
<text id="a59" x="980.30" y="622.00" class="an" text-anchor="start" textLength="11.39" lengthAdjust="spacingAndGlyphs" style="fill:#8c8c8c">59</text>
<rect x="58.0" y="239.4" width="914.6" height="167.0" fill="none" stroke="#4a4a4a" stroke-width="1.2"/>
<line x1="54.0" y1="402.7" x2="58.0" y2="402.7" stroke="#4a4a4a" stroke-width="1"/>
<text id="p2y-40" x="49.40" y="407.90" class="tk" text-anchor="end" textLength="17.02" lengthAdjust="spacingAndGlyphs">-40</text>
<line x1="54.0" y1="362.8" x2="58.0" y2="362.8" stroke="#4a4a4a" stroke-width="1"/>
<text id="p2y-20" x="49.40" y="367.95" class="tk" text-anchor="end" textLength="17.02" lengthAdjust="spacingAndGlyphs">-20</text>
<line x1="54.0" y1="322.8" x2="58.0" y2="322.8" stroke="#4a4a4a" stroke-width="1"/>
<text id="p2y0" x="49.40" y="328.00" class="tk" text-anchor="end" textLength="6.56" lengthAdjust="spacingAndGlyphs">0</text>
<line x1="54.0" y1="282.9" x2="58.0" y2="282.9" stroke="#4a4a4a" stroke-width="1"/>
<text id="p2y20" x="49.40" y="288.05" class="tk" text-anchor="end" textLength="13.10" lengthAdjust="spacingAndGlyphs">20</text>
<line x1="54.0" y1="242.9" x2="58.0" y2="242.9" stroke="#4a4a4a" stroke-width="1"/>
<text id="p2y40" x="49.40" y="248.10" class="tk" text-anchor="end" textLength="13.10" lengthAdjust="spacingAndGlyphs">40</text>
<line x1="98.8" y1="406.4" x2="98.8" y2="410.4" stroke="#4a4a4a" stroke-width="1"/>
<line x1="140.1" y1="406.4" x2="140.1" y2="410.4" stroke="#4a4a4a" stroke-width="1"/>
<line x1="181.4" y1="406.4" x2="181.4" y2="410.4" stroke="#4a4a4a" stroke-width="1"/>
<line x1="222.7" y1="406.4" x2="222.7" y2="410.4" stroke="#4a4a4a" stroke-width="1"/>
<line x1="264.1" y1="406.4" x2="264.1" y2="410.4" stroke="#4a4a4a" stroke-width="1"/>
<line x1="305.4" y1="406.4" x2="305.4" y2="410.4" stroke="#4a4a4a" stroke-width="1"/>
<line x1="346.7" y1="406.4" x2="346.7" y2="410.4" stroke="#4a4a4a" stroke-width="1"/>
<line x1="388.0" y1="406.4" x2="388.0" y2="410.4" stroke="#4a4a4a" stroke-width="1"/>
<line x1="429.4" y1="406.4" x2="429.4" y2="410.4" stroke="#4a4a4a" stroke-width="1"/>
<line x1="470.7" y1="406.4" x2="470.7" y2="410.4" stroke="#4a4a4a" stroke-width="1"/>
<line x1="512.0" y1="406.4" x2="512.0" y2="410.4" stroke="#4a4a4a" stroke-width="1"/>
<line x1="553.3" y1="406.4" x2="553.3" y2="410.4" stroke="#4a4a4a" stroke-width="1"/>
<line x1="594.7" y1="406.4" x2="594.7" y2="410.4" stroke="#4a4a4a" stroke-width="1"/>
<line x1="635.9" y1="406.4" x2="635.9" y2="410.4" stroke="#4a4a4a" stroke-width="1"/>
<line x1="677.2" y1="406.4" x2="677.2" y2="410.4" stroke="#4a4a4a" stroke-width="1"/>
<line x1="718.5" y1="406.4" x2="718.5" y2="410.4" stroke="#4a4a4a" stroke-width="1"/>
<line x1="759.9" y1="406.4" x2="759.9" y2="410.4" stroke="#4a4a4a" stroke-width="1"/>
<line x1="801.2" y1="406.4" x2="801.2" y2="410.4" stroke="#4a4a4a" stroke-width="1"/>
<line x1="842.5" y1="406.4" x2="842.5" y2="410.4" stroke="#4a4a4a" stroke-width="1"/>
<line x1="883.8" y1="406.4" x2="883.8" y2="410.4" stroke="#4a4a4a" stroke-width="1"/>
<line x1="925.2" y1="406.4" x2="925.2" y2="410.4" stroke="#4a4a4a" stroke-width="1"/>
<line x1="966.5" y1="406.4" x2="966.5" y2="410.4" stroke="#4a4a4a" stroke-width="1"/>
<rect x="58.0" y="445.6" width="914.6" height="82.8" fill="none" stroke="#4a4a4a" stroke-width="1.2"/>
<line x1="54.0" y1="527.2" x2="58.0" y2="527.2" stroke="#4a4a4a" stroke-width="1"/>
<text id="p3y0" x="49.40" y="532.40" class="tk" text-anchor="end" textLength="6.56" lengthAdjust="spacingAndGlyphs">0</text>
<line x1="54.0" y1="486.8" x2="58.0" y2="486.8" stroke="#4a4a4a" stroke-width="1"/>
<text id="p3y50" x="49.40" y="492.00" class="tk" text-anchor="end" textLength="13.10" lengthAdjust="spacingAndGlyphs">50</text>
<line x1="54.0" y1="446.4" x2="58.0" y2="446.4" stroke="#4a4a4a" stroke-width="1"/>
<text id="p3y100" x="49.40" y="451.60" class="tk" text-anchor="end" textLength="19.65" lengthAdjust="spacingAndGlyphs">100</text>
<line x1="98.8" y1="528.4" x2="98.8" y2="532.4" stroke="#4a4a4a" stroke-width="1"/>
<line x1="140.1" y1="528.4" x2="140.1" y2="532.4" stroke="#4a4a4a" stroke-width="1"/>
<line x1="181.4" y1="528.4" x2="181.4" y2="532.4" stroke="#4a4a4a" stroke-width="1"/>
<line x1="222.7" y1="528.4" x2="222.7" y2="532.4" stroke="#4a4a4a" stroke-width="1"/>
<line x1="264.1" y1="528.4" x2="264.1" y2="532.4" stroke="#4a4a4a" stroke-width="1"/>
<line x1="305.4" y1="528.4" x2="305.4" y2="532.4" stroke="#4a4a4a" stroke-width="1"/>
<line x1="346.7" y1="528.4" x2="346.7" y2="532.4" stroke="#4a4a4a" stroke-width="1"/>
<line x1="388.0" y1="528.4" x2="388.0" y2="532.4" stroke="#4a4a4a" stroke-width="1"/>
<line x1="429.4" y1="528.4" x2="429.4" y2="532.4" stroke="#4a4a4a" stroke-width="1"/>
<line x1="470.7" y1="528.4" x2="470.7" y2="532.4" stroke="#4a4a4a" stroke-width="1"/>
<line x1="512.0" y1="528.4" x2="512.0" y2="532.4" stroke="#4a4a4a" stroke-width="1"/>
<line x1="553.3" y1="528.4" x2="553.3" y2="532.4" stroke="#4a4a4a" stroke-width="1"/>
<line x1="594.7" y1="528.4" x2="594.7" y2="532.4" stroke="#4a4a4a" stroke-width="1"/>
<line x1="635.9" y1="528.4" x2="635.9" y2="532.4" stroke="#4a4a4a" stroke-width="1"/>
<line x1="677.2" y1="528.4" x2="677.2" y2="532.4" stroke="#4a4a4a" stroke-width="1"/>
<line x1="718.5" y1="528.4" x2="718.5" y2="532.4" stroke="#4a4a4a" stroke-width="1"/>
<line x1="759.9" y1="528.4" x2="759.9" y2="532.4" stroke="#4a4a4a" stroke-width="1"/>
<line x1="801.2" y1="528.4" x2="801.2" y2="532.4" stroke="#4a4a4a" stroke-width="1"/>
<line x1="842.5" y1="528.4" x2="842.5" y2="532.4" stroke="#4a4a4a" stroke-width="1"/>
<line x1="883.8" y1="528.4" x2="883.8" y2="532.4" stroke="#4a4a4a" stroke-width="1"/>
<line x1="925.2" y1="528.4" x2="925.2" y2="532.4" stroke="#4a4a4a" stroke-width="1"/>
<line x1="966.5" y1="528.4" x2="966.5" y2="532.4" stroke="#4a4a4a" stroke-width="1"/>
<rect x="58.0" y="567.3" width="914.6" height="83.6" fill="none" stroke="#4a4a4a" stroke-width="1.2"/>
<line x1="54.0" y1="626.6" x2="58.0" y2="626.6" stroke="#4a4a4a" stroke-width="1"/>
<text id="p4y60" x="49.40" y="631.80" class="tk" text-anchor="end" textLength="13.10" lengthAdjust="spacingAndGlyphs">60</text>
<line x1="54.0" y1="594.4" x2="58.0" y2="594.4" stroke="#4a4a4a" stroke-width="1"/>
<text id="p4y80" x="49.40" y="599.60" class="tk" text-anchor="end" textLength="13.10" lengthAdjust="spacingAndGlyphs">80</text>
<line x1="98.8" y1="650.9" x2="98.8" y2="654.9" stroke="#4a4a4a" stroke-width="1"/>
<text id="x2005" x="98.84" y="669.30" class="tk" text-anchor="middle" textLength="26.19" lengthAdjust="spacingAndGlyphs">2005</text>
<line x1="140.1" y1="650.9" x2="140.1" y2="654.9" stroke="#4a4a4a" stroke-width="1"/>
<text id="x2006" x="140.13" y="669.30" class="tk" text-anchor="middle" textLength="26.19" lengthAdjust="spacingAndGlyphs">2006</text>
<line x1="181.4" y1="650.9" x2="181.4" y2="654.9" stroke="#4a4a4a" stroke-width="1"/>
<text id="x2007" x="181.42" y="669.30" class="tk" text-anchor="middle" textLength="26.19" lengthAdjust="spacingAndGlyphs">2007</text>
<line x1="222.7" y1="650.9" x2="222.7" y2="654.9" stroke="#4a4a4a" stroke-width="1"/>
<text id="x2008" x="222.71" y="669.30" class="tk" text-anchor="middle" textLength="26.19" lengthAdjust="spacingAndGlyphs">2008</text>
<line x1="264.1" y1="650.9" x2="264.1" y2="654.9" stroke="#4a4a4a" stroke-width="1"/>
<text id="x2009" x="264.11" y="669.30" class="tk" text-anchor="middle" textLength="26.19" lengthAdjust="spacingAndGlyphs">2009</text>
<line x1="305.4" y1="650.9" x2="305.4" y2="654.9" stroke="#4a4a4a" stroke-width="1"/>
<text id="x2010" x="305.40" y="669.30" class="tk" text-anchor="middle" textLength="26.19" lengthAdjust="spacingAndGlyphs">2010</text>
<line x1="346.7" y1="650.9" x2="346.7" y2="654.9" stroke="#4a4a4a" stroke-width="1"/>
<text id="x2011" x="346.69" y="669.30" class="tk" text-anchor="middle" textLength="25.33" lengthAdjust="spacingAndGlyphs">2011</text>
<line x1="388.0" y1="650.9" x2="388.0" y2="654.9" stroke="#4a4a4a" stroke-width="1"/>
<text id="x2012" x="387.98" y="669.30" class="tk" text-anchor="middle" textLength="26.19" lengthAdjust="spacingAndGlyphs">2012</text>
<line x1="429.4" y1="650.9" x2="429.4" y2="654.9" stroke="#4a4a4a" stroke-width="1"/>
<text id="x2013" x="429.38" y="669.30" class="tk" text-anchor="middle" textLength="26.19" lengthAdjust="spacingAndGlyphs">2013</text>
<line x1="470.7" y1="650.9" x2="470.7" y2="654.9" stroke="#4a4a4a" stroke-width="1"/>
<text id="x2014" x="470.67" y="669.30" class="tk" text-anchor="middle" textLength="26.19" lengthAdjust="spacingAndGlyphs">2014</text>
<line x1="512.0" y1="650.9" x2="512.0" y2="654.9" stroke="#4a4a4a" stroke-width="1"/>
<text id="x2015" x="511.96" y="669.30" class="tk" text-anchor="middle" textLength="26.19" lengthAdjust="spacingAndGlyphs">2015</text>
<line x1="553.3" y1="650.9" x2="553.3" y2="654.9" stroke="#4a4a4a" stroke-width="1"/>
<text id="x2016" x="553.25" y="669.30" class="tk" text-anchor="middle" textLength="26.19" lengthAdjust="spacingAndGlyphs">2016</text>
<line x1="594.7" y1="650.9" x2="594.7" y2="654.9" stroke="#4a4a4a" stroke-width="1"/>
<text id="x2017" x="594.66" y="669.30" class="tk" text-anchor="middle" textLength="26.19" lengthAdjust="spacingAndGlyphs">2017</text>
<line x1="635.9" y1="650.9" x2="635.9" y2="654.9" stroke="#4a4a4a" stroke-width="1"/>
<text id="x2018" x="635.95" y="669.30" class="tk" text-anchor="middle" textLength="26.19" lengthAdjust="spacingAndGlyphs">2018</text>
<line x1="677.2" y1="650.9" x2="677.2" y2="654.9" stroke="#4a4a4a" stroke-width="1"/>
<text id="x2019" x="677.24" y="669.30" class="tk" text-anchor="middle" textLength="26.19" lengthAdjust="spacingAndGlyphs">2019</text>
<line x1="718.5" y1="650.9" x2="718.5" y2="654.9" stroke="#4a4a4a" stroke-width="1"/>
<text id="x2020" x="718.53" y="669.30" class="tk" text-anchor="middle" textLength="26.19" lengthAdjust="spacingAndGlyphs">2020</text>
<line x1="759.9" y1="650.9" x2="759.9" y2="654.9" stroke="#4a4a4a" stroke-width="1"/>
<text id="x2021" x="759.93" y="669.30" class="tk" text-anchor="middle" textLength="26.19" lengthAdjust="spacingAndGlyphs">2021</text>
<line x1="801.2" y1="650.9" x2="801.2" y2="654.9" stroke="#4a4a4a" stroke-width="1"/>
<text id="x2022" x="801.22" y="669.30" class="tk" text-anchor="middle" textLength="26.19" lengthAdjust="spacingAndGlyphs">2022</text>
<line x1="842.5" y1="650.9" x2="842.5" y2="654.9" stroke="#4a4a4a" stroke-width="1"/>
<text id="x2023" x="842.51" y="669.30" class="tk" text-anchor="middle" textLength="26.19" lengthAdjust="spacingAndGlyphs">2023</text>
<line x1="883.8" y1="650.9" x2="883.8" y2="654.9" stroke="#4a4a4a" stroke-width="1"/>
<text id="x2024" x="883.80" y="669.30" class="tk" text-anchor="middle" textLength="26.19" lengthAdjust="spacingAndGlyphs">2024</text>
<line x1="925.2" y1="650.9" x2="925.2" y2="654.9" stroke="#4a4a4a" stroke-width="1"/>
<text id="x2025" x="925.20" y="669.30" class="tk" text-anchor="middle" textLength="26.19" lengthAdjust="spacingAndGlyphs">2025</text>
<line x1="966.5" y1="650.9" x2="966.5" y2="654.9" stroke="#4a4a4a" stroke-width="1"/>
<text id="x2026" x="966.49" y="669.30" class="tk" text-anchor="middle" textLength="26.19" lengthAdjust="spacingAndGlyphs">2026</text>
<rect x="478.8" y="234.5" width="14.8" height="12.0" fill="#fff" fill-opacity="0.75"/>
<text id="a36b" x="482.00" y="244.20" class="an" text-anchor="start" textLength="11.39" lengthAdjust="spacingAndGlyphs" style="fill:#78acd3">36</text>
<rect x="220.6" y="554.5" width="13.3" height="14.3" fill="#fff" fill-opacity="0.75"/>
<text id="a95b" x="222.60" y="564.70" class="an" text-anchor="start" textLength="11.39" lengthAdjust="spacingAndGlyphs" style="fill:#8c8c8c">95</text>
<text id="title" x="515.50" y="233.00" class="ti" text-anchor="middle" textLength="399.73" lengthAdjust="spacingAndGlyphs">ココア先物 (CC) — Net Positions (FO+Options, Legacy, ALL)</text>
<text id="yl2" x="0.00" y="0.00" class="al" text-anchor="middle" textLength="82.66" lengthAdjust="spacingAndGlyphs" transform="translate(25.4,325.6) rotate(-90)">Net (contracts)</text>
<text id="yl3" x="0.00" y="0.00" class="al" text-anchor="middle" textLength="102.54" lengthAdjust="spacingAndGlyphs" transform="translate(23.7,488.8) rotate(-90)">COT Index (0–100)</text>
<text id="yl4" x="0.00" y="0.00" class="al" text-anchor="middle" textLength="140.98" lengthAdjust="spacingAndGlyphs" transform="translate(30.1,610.1) rotate(-90)">Open Interest (contracts)</text>
<text id="xl" x="515.50" y="685.50" class="al" text-anchor="middle" textLength="26.27" lengthAdjust="spacingAndGlyphs">Date</text>
<text id="fn" x="1018.60" y="690.00" class="fn" text-anchor="end" textLength="411.30" lengthAdjust="spacingAndGlyphs">注: Net/OI は枚数（contracts）。k=1,000枚。COT Index・WVI・Stoch は 0–100 の位置指数。</text>
</svg>
</body></html>
